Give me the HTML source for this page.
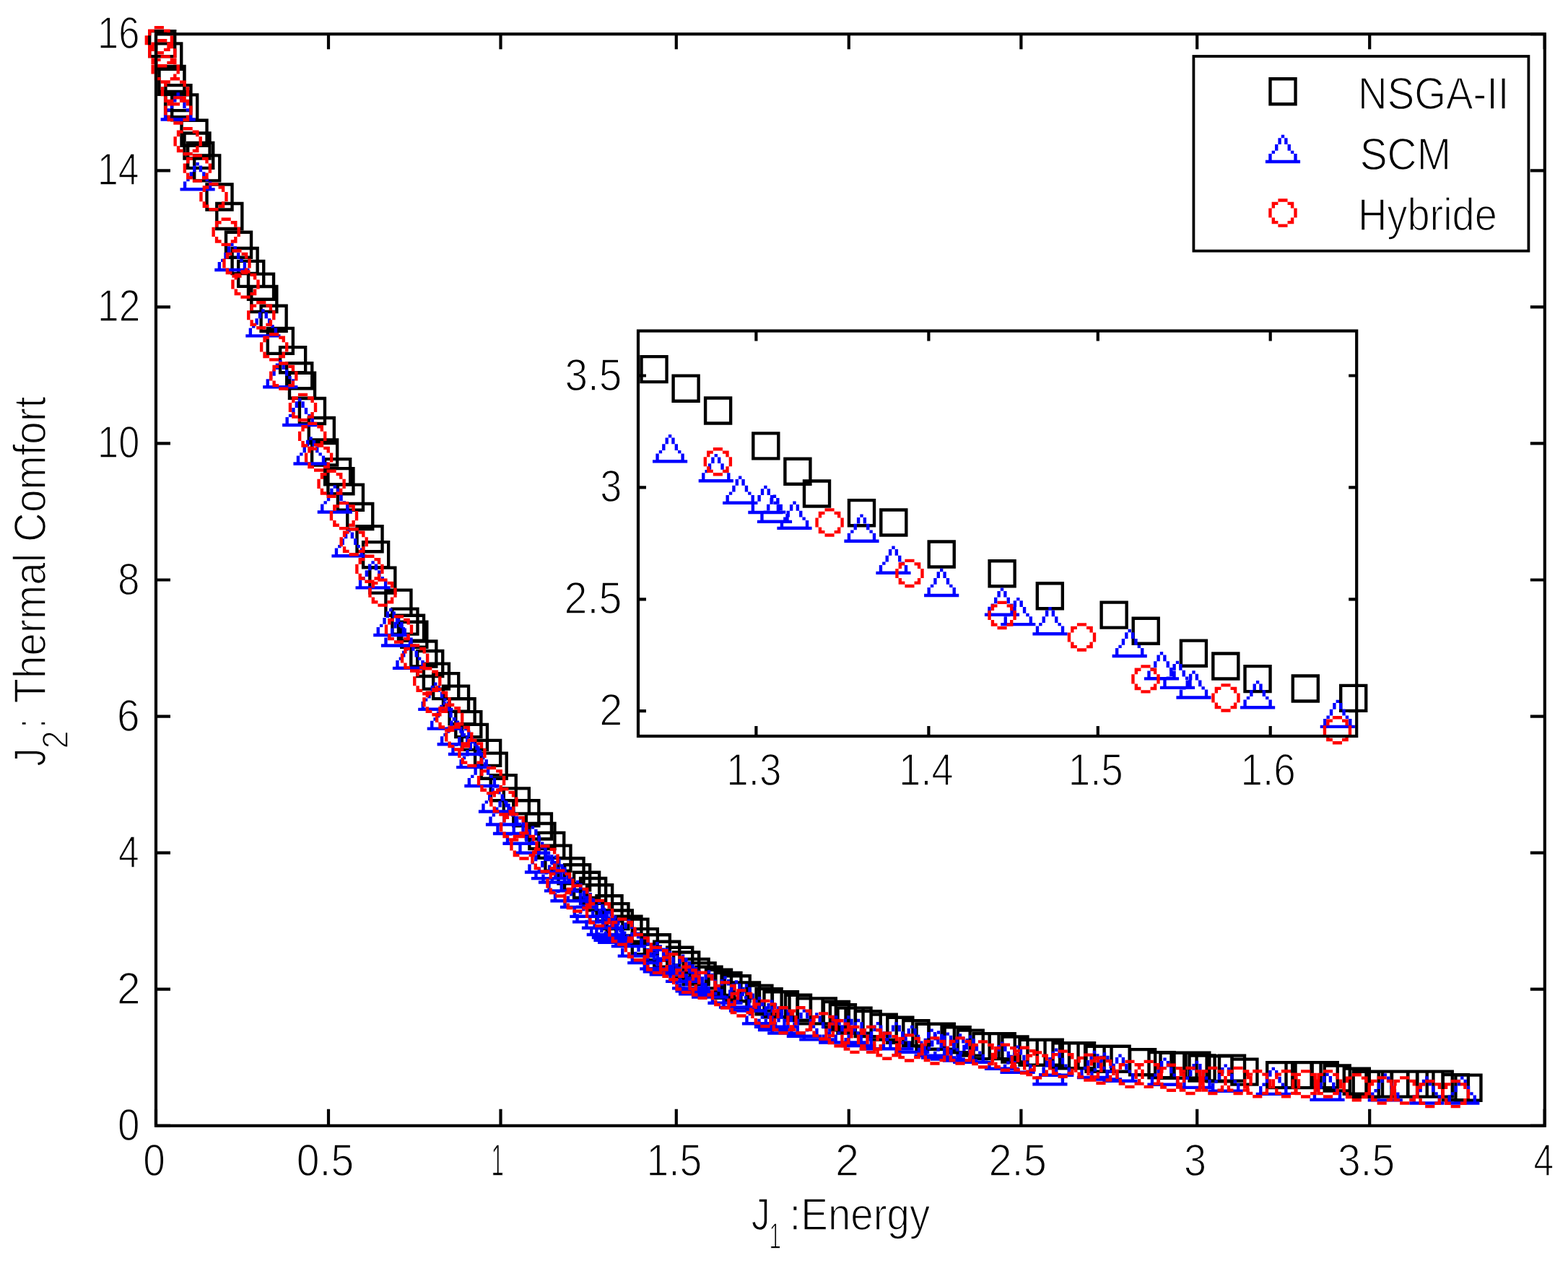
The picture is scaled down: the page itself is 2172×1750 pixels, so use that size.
<!DOCTYPE html><html><head><meta charset="utf-8"><title>Pareto fronts</title><style>html,body{margin:0;padding:0;background:#fff;overflow:hidden}svg{display:block}</style></head><body><svg xmlns="http://www.w3.org/2000/svg" width="2172" height="1750" viewBox="0 0 2172 1750"><rect x="0" y="0" width="2172" height="1750" fill="#fff"/><path d="M216 1559.8v-23M216 47.2v21M455 1559.8v-23M455 47.2v21M693.5 1559.8v-23M693.5 47.2v21M936.8 1559.8v-23M936.8 47.2v21M1175.8 1559.8v-23M1175.8 47.2v21M1414.4 1559.8v-23M1414.4 47.2v21M1658.2 1559.8v-23M1658.2 47.2v21M1897.2 1559.8v-23M1897.2 47.2v21M2139.7 1559.8v-23M2139.7 47.2v21M216 1559.8h20M2139.8 1559.8h-20M216 1370.7h20M2139.8 1370.7h-20M216 1181.7h20M2139.8 1181.7h-20M216 992.6h20M2139.8 992.6h-20M216 803.5h20M2139.8 803.5h-20M216 614.4h20M2139.8 614.4h-20M216 425.4h20M2139.8 425.4h-20M216 236.3h20M2139.8 236.3h-20M216 47.2h20M2139.8 47.2h-20" stroke="#000" stroke-width="4.2" fill="none"/><path d="M205.0 40.9h39.42v39.42h-39.42v-39.42zM209.4 75.9h30.66v-30.66h-30.66v30.66zM214.0 58.2h39.42v39.42h-39.42v-39.42zM218.4 93.2h30.66v-30.66h-30.66v30.66zM218.3 89.7h39.42v39.42h-39.42v-39.42zM222.7 124.7h30.66v-30.66h-30.66v30.66zM218.1 93.6h39.42v39.42h-39.42v-39.42zM222.5 128.6h30.66v-30.66h-30.66v30.66zM227.2 115.9h39.42v39.42h-39.42v-39.42zM231.6 150.9h30.66v-30.66h-30.66v30.66zM226.9 125.1h39.42v39.42h-39.42v-39.42zM231.3 160.1h30.66v-30.66h-30.66v30.66zM236.0 129.2h39.42v39.42h-39.42v-39.42zM240.4 164.2h30.66v-30.66h-30.66v30.66zM249.3 164.6h39.42v39.42h-39.42v-39.42zM253.7 199.6h30.66v-30.66h-30.66v30.66zM253.3 182.3h39.42v39.42h-39.42v-39.42zM257.7 217.3h30.66v-30.66h-30.66v30.66zM258.0 195.7h39.42v39.42h-39.42v-39.42zM262.4 230.7h30.66v-30.66h-30.66v30.66zM267.0 213.2h39.42v39.42h-39.42v-39.42zM271.4 248.2h30.66v-30.66h-30.66v30.66zM284.3 253.3h39.42v39.42h-39.42v-39.42zM288.7 288.3h30.66v-30.66h-30.66v30.66zM298.1 279.8h39.42v39.42h-39.42v-39.42zM302.5 314.8h30.66v-30.66h-30.66v30.66zM310.8 319.6h39.42v39.42h-39.42v-39.42zM315.2 354.6h30.66v-30.66h-30.66v30.66zM319.4 341.8h39.42v39.42h-39.42v-39.42zM323.8 376.8h30.66v-30.66h-30.66v30.66zM328.0 359.7h39.42v39.42h-39.42v-39.42zM332.4 394.7h30.66v-30.66h-30.66v30.66zM341.8 377.5h39.42v39.42h-39.42v-39.42zM346.2 412.5h30.66v-30.66h-30.66v30.66zM346.1 394.8h39.42v39.42h-39.42v-39.42zM350.5 429.8h30.66v-30.66h-30.66v30.66zM359.4 421.6h39.42v39.42h-39.42v-39.42zM363.8 456.6h30.66v-30.66h-30.66v30.66zM368.6 452.7h39.42v39.42h-39.42v-39.42zM373.0 487.7h30.66v-30.66h-30.66v30.66zM385.9 479.0h39.42v39.42h-39.42v-39.42zM390.3 514.0h30.66v-30.66h-30.66v30.66zM395.0 501.1h39.42v39.42h-39.42v-39.42zM399.4 536.1h30.66v-30.66h-30.66v30.66zM398.8 514.6h39.42v39.42h-39.42v-39.42zM403.2 549.6h30.66v-30.66h-30.66v30.66zM412.7 549.8h39.42v39.42h-39.42v-39.42zM417.1 584.8h30.66v-30.66h-30.66v30.66zM425.6 576.8h39.42v39.42h-39.42v-39.42zM430.0 611.8h30.66v-30.66h-30.66v30.66zM429.9 607.3h39.42v39.42h-39.42v-39.42zM434.3 642.3h30.66v-30.66h-30.66v30.66zM447.9 634.0h39.42v39.42h-39.42v-39.42zM452.3 669.0h30.66v-30.66h-30.66v30.66zM452.2 647.0h39.42v39.42h-39.42v-39.42zM456.6 682.0h30.66v-30.66h-30.66v30.66zM465.7 669.5h39.42v39.42h-39.42v-39.42zM470.1 704.5h30.66v-30.66h-30.66v30.66zM479.0 695.8h39.42v39.42h-39.42v-39.42zM483.4 730.8h30.66v-30.66h-30.66v30.66zM492.3 727.0h39.42v39.42h-39.42v-39.42zM496.7 762.0h30.66v-30.66h-30.66v30.66zM500.9 749.0h39.42v39.42h-39.42v-39.42zM505.3 784.0h30.66v-30.66h-30.66v30.66zM510.1 784.4h39.42v39.42h-39.42v-39.42zM514.5 819.4h30.66v-30.66h-30.66v30.66zM532.2 815.5h39.42v39.42h-39.42v-39.42zM536.6 850.5h30.66v-30.66h-30.66v30.66zM541.2 841.4h39.42v39.42h-39.42v-39.42zM545.6 876.4h30.66v-30.66h-30.66v30.66zM549.8 850.6h39.42v39.42h-39.42v-39.42zM554.2 885.6h30.66v-30.66h-30.66v30.66zM554.1 859.6h39.42v39.42h-39.42v-39.42zM558.5 894.6h30.66v-30.66h-30.66v30.66zM567.1 886.3h39.42v39.42h-39.42v-39.42zM571.5 921.3h30.66v-30.66h-30.66v30.66zM576.0 899.8h39.42v39.42h-39.42v-39.42zM580.4 934.8h30.66v-30.66h-30.66v30.66zM584.7 917.4h39.42v39.42h-39.42v-39.42zM589.1 952.4h30.66v-30.66h-30.66v30.66zM598.0 930.9h39.42v39.42h-39.42v-39.42zM602.4 965.9h30.66v-30.66h-30.66v30.66zM611.8 948.5h39.42v39.42h-39.42v-39.42zM616.2 983.5h30.66v-30.66h-30.66v30.66zM620.4 966.1h39.42v39.42h-39.42v-39.42zM624.8 1001.1h30.66v-30.66h-30.66v30.66zM629.1 983.9h39.42v39.42h-39.42v-39.42zM633.5 1018.9h30.66v-30.66h-30.66v30.66zM637.7 1001.7h39.42v39.42h-39.42v-39.42zM642.1 1036.7h30.66v-30.66h-30.66v30.66zM655.9 1023.7h39.42v39.42h-39.42v-39.42zM660.3 1058.7h30.66v-30.66h-30.66v30.66zM664.5 1041.5h39.42v39.42h-39.42v-39.42zM668.9 1076.5h30.66v-30.66h-30.66v30.66zM677.5 1072.0h39.42v39.42h-39.42v-39.42zM681.9 1107.0h30.66v-30.66h-30.66v30.66zM695.6 1090.2h39.42v39.42h-39.42v-39.42zM700.0 1125.2h30.66v-30.66h-30.66v30.66zM709.1 1107.1h39.42v39.42h-39.42v-39.42zM713.5 1142.1h30.66v-30.66h-30.66v30.66zM726.7 1125.3h39.42v39.42h-39.42v-39.42zM731.1 1160.3h30.66v-30.66h-30.66v30.66zM731.2 1138.8h39.42v39.42h-39.42v-39.42zM735.6 1173.8h30.66v-30.66h-30.66v30.66zM744.0 1151.7h39.42v39.42h-39.42v-39.42zM748.4 1186.7h30.66v-30.66h-30.66v30.66zM753.2 1169.5h39.42v39.42h-39.42v-39.42zM757.6 1204.5h30.66v-30.66h-30.66v30.66zM771.3 1187.1h39.42v39.42h-39.42v-39.42zM775.7 1222.1h30.66v-30.66h-30.66v30.66zM779.9 1196.1h39.42v39.42h-39.42v-39.42zM784.3 1231.1h30.66v-30.66h-30.66v30.66zM792.9 1206.6h39.42v39.42h-39.42v-39.42zM797.3 1241.7h30.66v-30.66h-30.66v30.66zM801.9 1214.7h39.42v39.42h-39.42v-39.42zM806.3 1249.8h30.66v-30.66h-30.66v30.66zM810.9 1224.1h39.42v39.42h-39.42v-39.42zM815.3 1259.2h30.66v-30.66h-30.66v30.66zM824.3 1239.1h39.42v39.42h-39.42v-39.42zM828.7 1274.1h30.66v-30.66h-30.66v30.66zM833.2 1249.9h39.42v39.42h-39.42v-39.42zM837.6 1284.9h30.66v-30.66h-30.66v30.66zM838.6 1259.2h39.42v39.42h-39.42v-39.42zM843.0 1294.3h30.66v-30.66h-30.66v30.66zM851.2 1267.4h39.42v39.42h-39.42v-39.42zM855.6 1302.4h30.66v-30.66h-30.66v30.66zM860.2 1271.4h39.42v39.42h-39.42v-39.42zM864.5 1306.5h30.66v-30.66h-30.66v30.66zM873.6 1284.9h39.42v39.42h-39.42v-39.42zM878.0 1319.9h30.66v-30.66h-30.66v30.66zM890.6 1293.1h39.42v39.42h-39.42v-39.42zM895.0 1328.1h30.66v-30.66h-30.66v30.66zM904.0 1302.5h39.42v39.42h-39.42v-39.42zM908.4 1337.6h30.66v-30.66h-30.66v30.66zM922.0 1310.5h39.42v39.42h-39.42v-39.42zM926.4 1345.6h30.66v-30.66h-30.66v30.66zM931.0 1317.3h39.42v39.42h-39.42v-39.42zM935.3 1352.4h30.66v-30.66h-30.66v30.66zM944.4 1326.8h39.42v39.42h-39.42v-39.42zM948.8 1361.8h30.66v-30.66h-30.66v30.66zM953.4 1332.2h39.42v39.42h-39.42v-39.42zM957.7 1367.2h30.66v-30.66h-30.66v30.66zM962.3 1337.6h39.42v39.42h-39.42v-39.42zM966.7 1372.6h30.66v-30.66h-30.66v30.66zM975.8 1341.6h39.42v39.42h-39.42v-39.42zM980.1 1376.7h30.66v-30.66h-30.66v30.66zM989.2 1345.7h39.42v39.42h-39.42v-39.42zM993.6 1380.8h30.66v-30.66h-30.66v30.66zM1001.5 1350.1h39.42v39.42h-39.42v-39.42zM1005.9 1385.1h30.66v-30.66h-30.66v30.66zM1014.8 1359.2h39.42v39.42h-39.42v-39.42zM1019.2 1394.2h30.66v-30.66h-30.66v30.66zM1032.2 1363.4h39.42v39.42h-39.42v-39.42zM1036.6 1398.4h30.66v-30.66h-30.66v30.66zM1045.4 1368.0h39.42v39.42h-39.42v-39.42zM1049.8 1403.0h30.66v-30.66h-30.66v30.66zM1056.3 1372.1h39.42v39.42h-39.42v-39.42zM1060.7 1407.1h30.66v-30.66h-30.66v30.66zM1067.7 1372.1h39.42v39.42h-39.42v-39.42zM1072.1 1407.1h30.66v-30.66h-30.66v30.66zM1085.8 1376.6h39.42v39.42h-39.42v-39.42zM1090.2 1411.6h30.66v-30.66h-30.66v30.66zM1102.3 1381.2h39.42v39.42h-39.42v-39.42zM1106.7 1416.2h30.66v-30.66h-30.66v30.66zM1120.6 1381.2h39.42v39.42h-39.42v-39.42zM1125.0 1416.2h30.66v-30.66h-30.66v30.66zM1138.7 1385.8h39.42v39.42h-39.42v-39.42zM1143.1 1420.8h30.66v-30.66h-30.66v30.66zM1147.7 1390.0h39.42v39.42h-39.42v-39.42zM1152.1 1425.0h30.66v-30.66h-30.66v30.66zM1158.3 1394.4h39.42v39.42h-39.42v-39.42zM1162.7 1429.4h30.66v-30.66h-30.66v30.66zM1169.3 1394.4h39.42v39.42h-39.42v-39.42zM1173.7 1429.4h30.66v-30.66h-30.66v30.66zM1182.5 1398.9h39.42v39.42h-39.42v-39.42zM1186.9 1433.9h30.66v-30.66h-30.66v30.66zM1204.5 1403.4h39.42v39.42h-39.42v-39.42zM1208.9 1438.4h30.66v-30.66h-30.66v30.66zM1227.1 1407.6h39.42v39.42h-39.42v-39.42zM1231.5 1442.6h30.66v-30.66h-30.66v30.66zM1249.1 1412.0h39.42v39.42h-39.42v-39.42zM1253.5 1447.0h30.66v-30.66h-30.66v30.66zM1267.3 1416.6h39.42v39.42h-39.42v-39.42zM1271.7 1451.6h30.66v-30.66h-30.66v30.66zM1284.6 1416.6h39.42v39.42h-39.42v-39.42zM1289.0 1451.6h30.66v-30.66h-30.66v30.66zM1306.4 1421.1h39.42v39.42h-39.42v-39.42zM1310.8 1456.1h30.66v-30.66h-30.66v30.66zM1324.5 1425.4h39.42v39.42h-39.42v-39.42zM1328.9 1460.4h30.66v-30.66h-30.66v30.66zM1346.3 1429.9h39.42v39.42h-39.42v-39.42zM1350.7 1464.9h30.66v-30.66h-30.66v30.66zM1368.5 1429.9h39.42v39.42h-39.42v-39.42zM1372.9 1464.9h30.66v-30.66h-30.66v30.66zM1386.2 1434.3h39.42v39.42h-39.42v-39.42zM1390.6 1469.3h30.66v-30.66h-30.66v30.66zM1410.3 1438.6h39.42v39.42h-39.42v-39.42zM1414.7 1473.6h30.66v-30.66h-30.66v30.66zM1434.5 1438.6h39.42v39.42h-39.42v-39.42zM1438.9 1473.6h30.66v-30.66h-30.66v30.66zM1456.3 1443.1h39.42v39.42h-39.42v-39.42zM1460.7 1478.1h30.66v-30.66h-30.66v30.66zM1465.9 1443.1h39.42v39.42h-39.42v-39.42zM1470.3 1478.1h30.66v-30.66h-30.66v30.66zM1478.8 1443.1h39.42v39.42h-39.42v-39.42zM1483.2 1478.1h30.66v-30.66h-30.66v30.66zM1502.3 1447.6h39.42v39.42h-39.42v-39.42zM1506.7 1482.6h30.66v-30.66h-30.66v30.66zM1527.4 1447.6h39.42v39.42h-39.42v-39.42zM1531.8 1482.6h30.66v-30.66h-30.66v30.66zM1562.9 1452.0h39.42v39.42h-39.42v-39.42zM1567.3 1487.0h30.66v-30.66h-30.66v30.66zM1589.3 1456.0h39.42v39.42h-39.42v-39.42zM1593.7 1491.0h30.66v-30.66h-30.66v30.66zM1605.3 1456.6h39.42v39.42h-39.42v-39.42zM1609.7 1491.6h30.66v-30.66h-30.66v30.66zM1620.3 1456.6h39.42v39.42h-39.42v-39.42zM1624.7 1491.6h30.66v-30.66h-30.66v30.66zM1638.1 1456.6h39.42v39.42h-39.42v-39.42zM1642.5 1491.6h30.66v-30.66h-30.66v30.66zM1645.3 1460.3h39.42v39.42h-39.42v-39.42zM1649.7 1495.3h30.66v-30.66h-30.66v30.66zM1669.4 1461.1h39.42v39.42h-39.42v-39.42zM1673.8 1496.1h30.66v-30.66h-30.66v30.66zM1686.8 1460.4h39.42v39.42h-39.42v-39.42zM1691.2 1495.4h30.66v-30.66h-30.66v30.66zM1704.2 1465.4h39.42v39.42h-39.42v-39.42zM1708.6 1500.4h30.66v-30.66h-30.66v30.66zM1753.0 1469.9h39.42v39.42h-39.42v-39.42zM1757.4 1504.9h30.66v-30.66h-30.66v30.66zM1779.3 1469.9h39.42v39.42h-39.42v-39.42zM1783.7 1504.9h30.66v-30.66h-30.66v30.66zM1792.3 1469.9h39.42v39.42h-39.42v-39.42zM1796.7 1504.9h30.66v-30.66h-30.66v30.66zM1815.5 1469.9h39.42v39.42h-39.42v-39.42zM1819.9 1504.9h30.66v-30.66h-30.66v30.66zM1832.5 1474.3h39.42v39.42h-39.42v-39.42zM1836.9 1509.3h30.66v-30.66h-30.66v30.66zM1859.6 1478.5h39.42v39.42h-39.42v-39.42zM1864.0 1513.5h30.66v-30.66h-30.66v30.66zM1872.5 1482.7h39.42v39.42h-39.42v-39.42zM1876.9 1517.7h30.66v-30.66h-30.66v30.66zM1890.3 1482.4h39.42v39.42h-39.42v-39.42zM1894.7 1517.4h30.66v-30.66h-30.66v30.66zM1912.8 1482.4h39.42v39.42h-39.42v-39.42zM1917.2 1517.4h30.66v-30.66h-30.66v30.66zM1925.8 1482.4h39.42v39.42h-39.42v-39.42zM1930.2 1517.4h30.66v-30.66h-30.66v30.66zM1948.2 1482.4h39.42v39.42h-39.42v-39.42zM1952.6 1517.4h30.66v-30.66h-30.66v30.66zM1961.2 1482.4h39.42v39.42h-39.42v-39.42zM1965.6 1517.4h30.66v-30.66h-30.66v30.66zM1974.5 1482.4h39.42v39.42h-39.42v-39.42zM1978.9 1517.4h30.66v-30.66h-30.66v30.66zM1996.6 1487.0h39.42v39.42h-39.42v-39.42zM2001.0 1522.0h30.66v-30.66h-30.66v30.66zM2014.2 1487.5h39.42v39.42h-39.42v-39.42zM2018.6 1522.5h30.66v-30.66h-30.66v30.66z" fill="#000" fill-rule="nonzero"/><path d="M244.5 128.3h4.38v4.38h4.38v8.76h4.38v8.76h4.38v4.38h4.38v8.76h4.38v4.38h-48.18v-4.38h4.38v-8.76h4.38v-4.38h4.38v-8.76h4.38v-8.76h4.38v-4.38zM244.5 141.4h-4.38v8.76h-4.38v4.38h-4.38v8.76h30.66v-8.76h-4.38v-4.38h-4.38v-8.76h-4.38v-8.76h-4.38v8.76zM271.4 225.1h4.38v4.38h4.38v8.76h4.38v8.76h4.38v4.38h4.38v8.76h4.38v4.38h-48.18v-4.38h4.38v-8.76h4.38v-4.38h4.38v-8.76h4.38v-8.76h4.38v-4.38zM271.4 238.2h-4.38v8.76h-4.38v4.38h-4.38v8.76h30.66v-8.76h-4.38v-4.38h-4.38v-8.76h-4.38v-8.76h-4.38v8.76zM319.2 336.8h4.38v4.38h4.38v8.76h4.38v8.76h4.38v4.38h4.38v8.76h4.38v4.38h-48.18v-4.38h4.38v-8.76h4.38v-4.38h4.38v-8.76h4.38v-8.76h4.38v-4.38zM319.2 349.9h-4.38v8.76h-4.38v4.38h-4.38v8.76h30.66v-8.76h-4.38v-4.38h-4.38v-8.76h-4.38v-8.76h-4.38v8.76zM362.2 428.2h4.38v4.38h4.38v8.76h4.38v8.76h4.38v4.38h4.38v8.76h4.38v4.38h-48.18v-4.38h4.38v-8.76h4.38v-4.38h4.38v-8.76h4.38v-8.76h4.38v-4.38zM362.2 441.3h-4.38v8.76h-4.38v4.38h-4.38v8.76h30.66v-8.76h-4.38v-4.38h-4.38v-8.76h-4.38v-8.76h-4.38v8.76zM386.1 499.0h4.38v4.38h4.38v8.76h4.38v8.76h4.38v4.38h4.38v8.76h4.38v4.38h-48.18v-4.38h4.38v-8.76h4.38v-4.38h4.38v-8.76h4.38v-8.76h4.38v-4.38zM386.1 512.1h-4.38v8.76h-4.38v4.38h-4.38v8.76h30.66v-8.76h-4.38v-4.38h-4.38v-8.76h-4.38v-8.76h-4.38v8.76zM413.0 551.8h4.38v4.38h4.38v8.76h4.38v8.76h4.38v4.38h4.38v8.76h4.38v4.38h-48.18v-4.38h4.38v-8.76h4.38v-4.38h4.38v-8.76h4.38v-8.76h4.38v-4.38zM413.0 564.9h-4.38v8.76h-4.38v4.38h-4.38v8.76h30.66v-8.76h-4.38v-4.38h-4.38v-8.76h-4.38v-8.76h-4.38v8.76zM428.3 605.3h4.38v4.38h4.38v8.76h4.38v8.76h4.38v4.38h4.38v8.76h4.38v4.38h-48.18v-4.38h4.38v-8.76h4.38v-4.38h4.38v-8.76h4.38v-8.76h4.38v-4.38zM428.3 618.4h-4.38v8.76h-4.38v4.38h-4.38v8.76h30.66v-8.76h-4.38v-4.38h-4.38v-8.76h-4.38v-8.76h-4.38v8.76zM461.6 672.3h4.38v4.38h4.38v8.76h4.38v8.76h4.38v4.38h4.38v8.76h4.38v4.38h-48.18v-4.38h4.38v-8.76h4.38v-4.38h4.38v-8.76h4.38v-8.76h4.38v-4.38zM461.6 685.4h-4.38v8.76h-4.38v4.38h-4.38v8.76h30.66v-8.76h-4.38v-4.38h-4.38v-8.76h-4.38v-8.76h-4.38v8.76zM481.3 733.1h4.38v4.38h4.38v8.76h4.38v8.76h4.38v4.38h4.38v8.76h4.38v4.38h-48.18v-4.38h4.38v-8.76h4.38v-4.38h4.38v-8.76h4.38v-8.76h4.38v-4.38zM481.3 746.2h-4.38v8.76h-4.38v4.38h-4.38v8.76h30.66v-8.76h-4.38v-4.38h-4.38v-8.76h-4.38v-8.76h-4.38v8.76zM514.4 777.2h4.38v4.38h4.38v8.76h4.38v8.76h4.38v4.38h4.38v8.76h4.38v4.38h-48.18v-4.38h4.38v-8.76h4.38v-4.38h4.38v-8.76h4.38v-8.76h4.38v-4.38zM514.4 790.3h-4.38v8.76h-4.38v4.38h-4.38v8.76h30.66v-8.76h-4.38v-4.38h-4.38v-8.76h-4.38v-8.76h-4.38v8.76zM539.1 842.8h4.38v4.38h4.38v8.76h4.38v8.76h4.38v4.38h4.38v8.76h4.38v4.38h-48.18v-4.38h4.38v-8.76h4.38v-4.38h4.38v-8.76h4.38v-8.76h4.38v-4.38zM539.1 855.9h-4.38v8.76h-4.38v4.38h-4.38v8.76h30.66v-8.76h-4.38v-4.38h-4.38v-8.76h-4.38v-8.76h-4.38v8.76zM549.8 857.3h4.38v4.38h4.38v8.76h4.38v8.76h4.38v4.38h4.38v8.76h4.38v4.38h-48.18v-4.38h4.38v-8.76h4.38v-4.38h4.38v-8.76h4.38v-8.76h4.38v-4.38zM549.8 870.4h-4.38v8.76h-4.38v4.38h-4.38v8.76h30.66v-8.76h-4.38v-4.38h-4.38v-8.76h-4.38v-8.76h-4.38v8.76zM565.8 888.6h4.38v4.38h4.38v8.76h4.38v8.76h4.38v4.38h4.38v8.76h4.38v4.38h-48.18v-4.38h4.38v-8.76h4.38v-4.38h4.38v-8.76h4.38v-8.76h4.38v-4.38zM565.8 901.7h-4.38v8.76h-4.38v4.38h-4.38v8.76h30.66v-8.76h-4.38v-4.38h-4.38v-8.76h-4.38v-8.76h-4.38v8.76zM601.1 945.6h4.38v4.38h4.38v8.76h4.38v8.76h4.38v4.38h4.38v8.76h4.38v4.38h-48.18v-4.38h4.38v-8.76h4.38v-4.38h4.38v-8.76h4.38v-8.76h4.38v-4.38zM601.1 958.7h-4.38v8.76h-4.38v4.38h-4.38v8.76h30.66v-8.76h-4.38v-4.38h-4.38v-8.76h-4.38v-8.76h-4.38v8.76zM613.6 972.4h4.38v4.38h4.38v8.76h4.38v8.76h4.38v4.38h4.38v8.76h4.38v4.38h-48.18v-4.38h4.38v-8.76h4.38v-4.38h4.38v-8.76h4.38v-8.76h4.38v-4.38zM613.6 985.5h-4.38v8.76h-4.38v4.38h-4.38v8.76h30.66v-8.76h-4.38v-4.38h-4.38v-8.76h-4.38v-8.76h-4.38v8.76zM627.5 994.0h4.38v4.38h4.38v8.76h4.38v8.76h4.38v4.38h4.38v8.76h4.38v4.38h-48.18v-4.38h4.38v-8.76h4.38v-4.38h4.38v-8.76h4.38v-8.76h4.38v-4.38zM627.5 1007.1h-4.38v8.76h-4.38v4.38h-4.38v8.76h30.66v-8.76h-4.38v-4.38h-4.38v-8.76h-4.38v-8.76h-4.38v8.76zM642.8 1007.8h4.38v4.38h4.38v8.76h4.38v8.76h4.38v4.38h4.38v8.76h4.38v4.38h-48.18v-4.38h4.38v-8.76h4.38v-4.38h4.38v-8.76h4.38v-8.76h4.38v-4.38zM642.8 1020.9h-4.38v8.76h-4.38v4.38h-4.38v8.76h30.66v-8.76h-4.38v-4.38h-4.38v-8.76h-4.38v-8.76h-4.38v8.76zM654.0 1025.9h4.38v4.38h4.38v8.76h4.38v8.76h4.38v4.38h4.38v8.76h4.38v4.38h-48.18v-4.38h4.38v-8.76h4.38v-4.38h4.38v-8.76h4.38v-8.76h4.38v-4.38zM654.0 1039.0h-4.38v8.76h-4.38v4.38h-4.38v8.76h30.66v-8.76h-4.38v-4.38h-4.38v-8.76h-4.38v-8.76h-4.38v8.76zM665.2 1051.8h4.38v4.38h4.38v8.76h4.38v8.76h4.38v4.38h4.38v8.76h4.38v4.38h-48.18v-4.38h4.38v-8.76h4.38v-4.38h4.38v-8.76h4.38v-8.76h4.38v-4.38zM665.2 1064.9h-4.38v8.76h-4.38v4.38h-4.38v8.76h30.66v-8.76h-4.38v-4.38h-4.38v-8.76h-4.38v-8.76h-4.38v8.76zM684.8 1087.3h4.38v4.38h4.38v8.76h4.38v8.76h4.38v4.38h4.38v8.76h4.38v4.38h-48.18v-4.38h4.38v-8.76h4.38v-4.38h4.38v-8.76h4.38v-8.76h4.38v-4.38zM684.8 1100.4h-4.38v8.76h-4.38v4.38h-4.38v8.76h30.66v-8.76h-4.38v-4.38h-4.38v-8.76h-4.38v-8.76h-4.38v8.76zM694.8 1105.3h4.38v4.38h4.38v8.76h4.38v8.76h4.38v4.38h4.38v8.76h4.38v4.38h-48.18v-4.38h4.38v-8.76h4.38v-4.38h4.38v-8.76h4.38v-8.76h4.38v-4.38zM694.8 1118.4h-4.38v8.76h-4.38v4.38h-4.38v8.76h30.66v-8.76h-4.38v-4.38h-4.38v-8.76h-4.38v-8.76h-4.38v8.76zM704.8 1117.8h4.38v4.38h4.38v8.76h4.38v8.76h4.38v4.38h4.38v8.76h4.38v4.38h-48.18v-4.38h4.38v-8.76h4.38v-4.38h4.38v-8.76h4.38v-8.76h4.38v-4.38zM704.8 1130.9h-4.38v8.76h-4.38v4.38h-4.38v8.76h30.66v-8.76h-4.38v-4.38h-4.38v-8.76h-4.38v-8.76h-4.38v8.76zM718.3 1131.5h4.38v4.38h4.38v8.76h4.38v8.76h4.38v4.38h4.38v8.76h4.38v4.38h-48.18v-4.38h4.38v-8.76h4.38v-4.38h4.38v-8.76h4.38v-8.76h4.38v-4.38zM718.3 1144.6h-4.38v8.76h-4.38v4.38h-4.38v8.76h30.66v-8.76h-4.38v-4.38h-4.38v-8.76h-4.38v-8.76h-4.38v8.76zM735.8 1144.5h4.38v4.38h4.38v8.76h4.38v8.76h4.38v4.38h4.38v8.76h4.38v4.38h-48.18v-4.38h4.38v-8.76h4.38v-4.38h4.38v-8.76h4.38v-8.76h4.38v-4.38zM735.8 1157.6h-4.38v8.76h-4.38v4.38h-4.38v8.76h30.66v-8.76h-4.38v-4.38h-4.38v-8.76h-4.38v-8.76h-4.38v8.76zM748.8 1171.3h4.38v4.38h4.38v8.76h4.38v8.76h4.38v4.38h4.38v8.76h4.38v4.38h-48.18v-4.38h4.38v-8.76h4.38v-4.38h4.38v-8.76h4.38v-8.76h4.38v-4.38zM748.8 1184.4h-4.38v8.76h-4.38v4.38h-4.38v8.76h30.66v-8.76h-4.38v-4.38h-4.38v-8.76h-4.38v-8.76h-4.38v8.76zM757.8 1179.9h4.38v4.38h4.38v8.76h4.38v8.76h4.38v4.38h4.38v8.76h4.38v4.38h-48.18v-4.38h4.38v-8.76h4.38v-4.38h4.38v-8.76h4.38v-8.76h4.38v-4.38zM757.8 1193.0h-4.38v8.76h-4.38v4.38h-4.38v8.76h30.66v-8.76h-4.38v-4.38h-4.38v-8.76h-4.38v-8.76h-4.38v8.76zM767.8 1185.3h4.38v4.38h4.38v8.76h4.38v8.76h4.38v4.38h4.38v8.76h4.38v4.38h-48.18v-4.38h4.38v-8.76h4.38v-4.38h4.38v-8.76h4.38v-8.76h4.38v-4.38zM767.8 1198.4h-4.38v8.76h-4.38v4.38h-4.38v8.76h30.66v-8.76h-4.38v-4.38h-4.38v-8.76h-4.38v-8.76h-4.38v8.76zM775.8 1197.2h4.38v4.38h4.38v8.76h4.38v8.76h4.38v4.38h4.38v8.76h4.38v4.38h-48.18v-4.38h4.38v-8.76h4.38v-4.38h4.38v-8.76h4.38v-8.76h4.38v-4.38zM775.8 1210.3h-4.38v8.76h-4.38v4.38h-4.38v8.76h30.66v-8.76h-4.38v-4.38h-4.38v-8.76h-4.38v-8.76h-4.38v8.76zM784.3 1211.0h4.38v4.38h4.38v8.76h4.38v8.76h4.38v4.38h4.38v8.76h4.38v4.38h-48.18v-4.38h4.38v-8.76h4.38v-4.38h4.38v-8.76h4.38v-8.76h4.38v-4.38zM784.3 1224.1h-4.38v8.76h-4.38v4.38h-4.38v8.76h30.66v-8.76h-4.38v-4.38h-4.38v-8.76h-4.38v-8.76h-4.38v8.76zM797.8 1219.7h4.38v4.38h4.38v8.76h4.38v8.76h4.38v4.38h4.38v8.76h4.38v4.38h-48.18v-4.38h4.38v-8.76h4.38v-4.38h4.38v-8.76h4.38v-8.76h4.38v-4.38zM797.8 1232.8h-4.38v8.76h-4.38v4.38h-4.38v8.76h30.66v-8.76h-4.38v-4.38h-4.38v-8.76h-4.38v-8.76h-4.38v8.76zM811.2 1232.6h4.38v4.38h4.38v8.76h4.38v8.76h4.38v4.38h4.38v8.76h4.38v4.38h-48.18v-4.38h4.38v-8.76h4.38v-4.38h4.38v-8.76h4.38v-8.76h4.38v-4.38zM811.2 1245.7h-4.38v8.76h-4.38v4.38h-4.38v8.76h30.66v-8.76h-4.38v-4.38h-4.38v-8.76h-4.38v-8.76h-4.38v8.76zM814.9 1240.2h4.38v4.38h4.38v8.76h4.38v8.76h4.38v4.38h4.38v8.76h4.38v4.38h-48.18v-4.38h4.38v-8.76h4.38v-4.38h4.38v-8.76h4.38v-8.76h4.38v-4.38zM814.9 1253.4h-4.38v8.76h-4.38v4.38h-4.38v8.76h30.66v-8.76h-4.38v-4.38h-4.38v-8.76h-4.38v-8.76h-4.38v8.76zM827.8 1248.5h4.38v4.38h4.38v8.76h4.38v8.76h4.38v4.38h4.38v8.76h4.38v4.38h-48.18v-4.38h4.38v-8.76h4.38v-4.38h4.38v-8.76h4.38v-8.76h4.38v-4.38zM827.8 1261.6h-4.38v8.76h-4.38v4.38h-4.38v8.76h30.66v-8.76h-4.38v-4.38h-4.38v-8.76h-4.38v-8.76h-4.38v8.76zM834.6 1257.8h4.38v4.38h4.38v8.76h4.38v8.76h4.38v4.38h4.38v8.76h4.38v4.38h-48.18v-4.38h4.38v-8.76h4.38v-4.38h4.38v-8.76h4.38v-8.76h4.38v-4.38zM834.6 1270.9h-4.38v8.76h-4.38v4.38h-4.38v8.76h30.66v-8.76h-4.38v-4.38h-4.38v-8.76h-4.38v-8.76h-4.38v8.76zM841.7 1261.8h4.38v4.38h4.38v8.76h4.38v8.76h4.38v4.38h4.38v8.76h4.38v4.38h-48.18v-4.38h4.38v-8.76h4.38v-4.38h4.38v-8.76h4.38v-8.76h4.38v-4.38zM841.7 1275.0h-4.38v8.76h-4.38v4.38h-4.38v8.76h30.66v-8.76h-4.38v-4.38h-4.38v-8.76h-4.38v-8.76h-4.38v8.76zM844.3 1265.7h4.38v4.38h4.38v8.76h4.38v8.76h4.38v4.38h4.38v8.76h4.38v4.38h-48.18v-4.38h4.38v-8.76h4.38v-4.38h4.38v-8.76h4.38v-8.76h4.38v-4.38zM844.3 1278.9h-4.38v8.76h-4.38v4.38h-4.38v8.76h30.66v-8.76h-4.38v-4.38h-4.38v-8.76h-4.38v-8.76h-4.38v8.76zM849.9 1268.5h4.38v4.38h4.38v8.76h4.38v8.76h4.38v4.38h4.38v8.76h4.38v4.38h-48.18v-4.38h4.38v-8.76h4.38v-4.38h4.38v-8.76h4.38v-8.76h4.38v-4.38zM849.9 1281.6h-4.38v8.76h-4.38v4.38h-4.38v8.76h30.66v-8.76h-4.38v-4.38h-4.38v-8.76h-4.38v-8.76h-4.38v8.76zM868.7 1273.9h4.38v4.38h4.38v8.76h4.38v8.76h4.38v4.38h4.38v8.76h4.38v4.38h-48.18v-4.38h4.38v-8.76h4.38v-4.38h4.38v-8.76h4.38v-8.76h4.38v-4.38zM868.7 1287.1h-4.38v8.76h-4.38v4.38h-4.38v8.76h30.66v-8.76h-4.38v-4.38h-4.38v-8.76h-4.38v-8.76h-4.38v8.76zM877.6 1287.4h4.38v4.38h4.38v8.76h4.38v8.76h4.38v4.38h4.38v8.76h4.38v4.38h-48.18v-4.38h4.38v-8.76h4.38v-4.38h4.38v-8.76h4.38v-8.76h4.38v-4.38zM877.6 1300.5h-4.38v8.76h-4.38v4.38h-4.38v8.76h30.66v-8.76h-4.38v-4.38h-4.38v-8.76h-4.38v-8.76h-4.38v8.76zM891.1 1296.9h4.38v4.38h4.38v8.76h4.38v8.76h4.38v4.38h4.38v8.76h4.38v4.38h-48.18v-4.38h4.38v-8.76h4.38v-4.38h4.38v-8.76h4.38v-8.76h4.38v-4.38zM891.1 1310.1h-4.38v8.76h-4.38v4.38h-4.38v8.76h30.66v-8.76h-4.38v-4.38h-4.38v-8.76h-4.38v-8.76h-4.38v8.76zM908.1 1305.1h4.38v4.38h4.38v8.76h4.38v8.76h4.38v4.38h4.38v8.76h4.38v4.38h-48.18v-4.38h4.38v-8.76h4.38v-4.38h4.38v-8.76h4.38v-8.76h4.38v-4.38zM908.1 1318.2h-4.38v8.76h-4.38v4.38h-4.38v8.76h30.66v-8.76h-4.38v-4.38h-4.38v-8.76h-4.38v-8.76h-4.38v8.76zM912.6 1309.2h4.38v4.38h4.38v8.76h4.38v8.76h4.38v4.38h4.38v8.76h4.38v4.38h-48.18v-4.38h4.38v-8.76h4.38v-4.38h4.38v-8.76h4.38v-8.76h4.38v-4.38zM912.6 1322.3h-4.38v8.76h-4.38v4.38h-4.38v8.76h30.66v-8.76h-4.38v-4.38h-4.38v-8.76h-4.38v-8.76h-4.38v8.76zM921.6 1313.2h4.38v4.38h4.38v8.76h4.38v8.76h4.38v4.38h4.38v8.76h4.38v4.38h-48.18v-4.38h4.38v-8.76h4.38v-4.38h4.38v-8.76h4.38v-8.76h4.38v-4.38zM921.6 1326.3h-4.38v8.76h-4.38v4.38h-4.38v8.76h30.66v-8.76h-4.38v-4.38h-4.38v-8.76h-4.38v-8.76h-4.38v8.76zM943.9 1322.6h4.38v4.38h4.38v8.76h4.38v8.76h4.38v4.38h4.38v8.76h4.38v4.38h-48.18v-4.38h4.38v-8.76h4.38v-4.38h4.38v-8.76h4.38v-8.76h4.38v-4.38zM943.9 1335.7h-4.38v8.76h-4.38v4.38h-4.38v8.76h30.66v-8.76h-4.38v-4.38h-4.38v-8.76h-4.38v-8.76h-4.38v8.76zM952.9 1332.1h4.38v4.38h4.38v8.76h4.38v8.76h4.38v4.38h4.38v8.76h4.38v4.38h-48.18v-4.38h4.38v-8.76h4.38v-4.38h4.38v-8.76h4.38v-8.76h4.38v-4.38zM952.9 1345.3h-4.38v8.76h-4.38v4.38h-4.38v8.76h30.66v-8.76h-4.38v-4.38h-4.38v-8.76h-4.38v-8.76h-4.38v8.76zM957.4 1336.0h4.38v4.38h4.38v8.76h4.38v8.76h4.38v4.38h4.38v8.76h4.38v4.38h-48.18v-4.38h4.38v-8.76h4.38v-4.38h4.38v-8.76h4.38v-8.76h4.38v-4.38zM957.4 1349.1h-4.38v8.76h-4.38v4.38h-4.38v8.76h30.66v-8.76h-4.38v-4.38h-4.38v-8.76h-4.38v-8.76h-4.38v8.76zM961.9 1340.1h4.38v4.38h4.38v8.76h4.38v8.76h4.38v4.38h4.38v8.76h4.38v4.38h-48.18v-4.38h4.38v-8.76h4.38v-4.38h4.38v-8.76h4.38v-8.76h4.38v-4.38zM961.9 1353.3h-4.38v8.76h-4.38v4.38h-4.38v8.76h30.66v-8.76h-4.38v-4.38h-4.38v-8.76h-4.38v-8.76h-4.38v8.76zM979.9 1344.3h4.38v4.38h4.38v8.76h4.38v8.76h4.38v4.38h4.38v8.76h4.38v4.38h-48.18v-4.38h4.38v-8.76h4.38v-4.38h4.38v-8.76h4.38v-8.76h4.38v-4.38zM979.9 1357.5h-4.38v8.76h-4.38v4.38h-4.38v8.76h30.66v-8.76h-4.38v-4.38h-4.38v-8.76h-4.38v-8.76h-4.38v8.76zM1002.3 1352.5h4.38v4.38h4.38v8.76h4.38v8.76h4.38v4.38h4.38v8.76h4.38v4.38h-48.18v-4.38h4.38v-8.76h4.38v-4.38h4.38v-8.76h4.38v-8.76h4.38v-4.38zM1002.3 1365.6h-4.38v8.76h-4.38v4.38h-4.38v8.76h30.66v-8.76h-4.38v-4.38h-4.38v-8.76h-4.38v-8.76h-4.38v8.76zM1017.8 1358.3h4.38v4.38h4.38v8.76h4.38v8.76h4.38v4.38h4.38v8.76h4.38v4.38h-48.18v-4.38h4.38v-8.76h4.38v-4.38h4.38v-8.76h4.38v-8.76h4.38v-4.38zM1017.8 1371.4h-4.38v8.76h-4.38v4.38h-4.38v8.76h30.66v-8.76h-4.38v-4.38h-4.38v-8.76h-4.38v-8.76h-4.38v8.76zM1031.8 1363.3h4.38v4.38h4.38v8.76h4.38v8.76h4.38v4.38h4.38v8.76h4.38v4.38h-48.18v-4.38h4.38v-8.76h4.38v-4.38h4.38v-8.76h4.38v-8.76h4.38v-4.38zM1031.8 1376.4h-4.38v8.76h-4.38v4.38h-4.38v8.76h30.66v-8.76h-4.38v-4.38h-4.38v-8.76h-4.38v-8.76h-4.38v8.76zM1049.8 1381.1h4.38v4.38h4.38v8.76h4.38v8.76h4.38v4.38h4.38v8.76h4.38v4.38h-48.18v-4.38h4.38v-8.76h4.38v-4.38h4.38v-8.76h4.38v-8.76h4.38v-4.38zM1049.8 1394.2h-4.38v8.76h-4.38v4.38h-4.38v8.76h30.66v-8.76h-4.38v-4.38h-4.38v-8.76h-4.38v-8.76h-4.38v8.76zM1066.8 1385.5h4.38v4.38h4.38v8.76h4.38v8.76h4.38v4.38h4.38v8.76h4.38v4.38h-48.18v-4.38h4.38v-8.76h4.38v-4.38h4.38v-8.76h4.38v-8.76h4.38v-4.38zM1066.8 1398.6h-4.38v8.76h-4.38v4.38h-4.38v8.76h30.66v-8.76h-4.38v-4.38h-4.38v-8.76h-4.38v-8.76h-4.38v8.76zM1071.8 1389.9h4.38v4.38h4.38v8.76h4.38v8.76h4.38v4.38h4.38v8.76h4.38v4.38h-48.18v-4.38h4.38v-8.76h4.38v-4.38h4.38v-8.76h4.38v-8.76h4.38v-4.38zM1071.8 1403.0h-4.38v8.76h-4.38v4.38h-4.38v8.76h30.66v-8.76h-4.38v-4.38h-4.38v-8.76h-4.38v-8.76h-4.38v8.76zM1085.1 1394.4h4.38v4.38h4.38v8.76h4.38v8.76h4.38v4.38h4.38v8.76h4.38v4.38h-48.18v-4.38h4.38v-8.76h4.38v-4.38h4.38v-8.76h4.38v-8.76h4.38v-4.38zM1085.1 1407.5h-4.38v8.76h-4.38v4.38h-4.38v8.76h30.66v-8.76h-4.38v-4.38h-4.38v-8.76h-4.38v-8.76h-4.38v8.76zM1111.7 1398.5h4.38v4.38h4.38v8.76h4.38v8.76h4.38v4.38h4.38v8.76h4.38v4.38h-48.18v-4.38h4.38v-8.76h4.38v-4.38h4.38v-8.76h4.38v-8.76h4.38v-4.38zM1111.7 1411.6h-4.38v8.76h-4.38v4.38h-4.38v8.76h30.66v-8.76h-4.38v-4.38h-4.38v-8.76h-4.38v-8.76h-4.38v8.76zM1129.1 1403.2h4.38v4.38h4.38v8.76h4.38v8.76h4.38v4.38h4.38v8.76h4.38v4.38h-48.18v-4.38h4.38v-8.76h4.38v-4.38h4.38v-8.76h4.38v-8.76h4.38v-4.38zM1129.1 1416.3h-4.38v8.76h-4.38v4.38h-4.38v8.76h30.66v-8.76h-4.38v-4.38h-4.38v-8.76h-4.38v-8.76h-4.38v8.76zM1156.0 1407.3h4.38v4.38h4.38v8.76h4.38v8.76h4.38v4.38h4.38v8.76h4.38v4.38h-48.18v-4.38h4.38v-8.76h4.38v-4.38h4.38v-8.76h4.38v-8.76h4.38v-4.38zM1156.0 1420.4h-4.38v8.76h-4.38v4.38h-4.38v8.76h30.66v-8.76h-4.38v-4.38h-4.38v-8.76h-4.38v-8.76h-4.38v8.76zM1173.0 1407.3h4.38v4.38h4.38v8.76h4.38v8.76h4.38v4.38h4.38v8.76h4.38v4.38h-48.18v-4.38h4.38v-8.76h4.38v-4.38h4.38v-8.76h4.38v-8.76h4.38v-4.38zM1173.0 1420.4h-4.38v8.76h-4.38v4.38h-4.38v8.76h30.66v-8.76h-4.38v-4.38h-4.38v-8.76h-4.38v-8.76h-4.38v8.76zM1187.0 1411.8h4.38v4.38h4.38v8.76h4.38v8.76h4.38v4.38h4.38v8.76h4.38v4.38h-48.18v-4.38h4.38v-8.76h4.38v-4.38h4.38v-8.76h4.38v-8.76h4.38v-4.38zM1187.0 1424.9h-4.38v8.76h-4.38v4.38h-4.38v8.76h30.66v-8.76h-4.38v-4.38h-4.38v-8.76h-4.38v-8.76h-4.38v8.76zM1213.7 1416.0h4.38v4.38h4.38v8.76h4.38v8.76h4.38v4.38h4.38v8.76h4.38v4.38h-48.18v-4.38h4.38v-8.76h4.38v-4.38h4.38v-8.76h4.38v-8.76h4.38v-4.38zM1213.7 1429.1h-4.38v8.76h-4.38v4.38h-4.38v8.76h30.66v-8.76h-4.38v-4.38h-4.38v-8.76h-4.38v-8.76h-4.38v8.76zM1239.3 1416.2h4.38v4.38h4.38v8.76h4.38v8.76h4.38v4.38h4.38v8.76h4.38v4.38h-48.18v-4.38h4.38v-8.76h4.38v-4.38h4.38v-8.76h4.38v-8.76h4.38v-4.38zM1239.3 1429.3h-4.38v8.76h-4.38v4.38h-4.38v8.76h30.66v-8.76h-4.38v-4.38h-4.38v-8.76h-4.38v-8.76h-4.38v8.76zM1261.0 1420.7h4.38v4.38h4.38v8.76h4.38v8.76h4.38v4.38h4.38v8.76h4.38v4.38h-48.18v-4.38h4.38v-8.76h4.38v-4.38h4.38v-8.76h4.38v-8.76h4.38v-4.38zM1261.0 1433.8h-4.38v8.76h-4.38v4.38h-4.38v8.76h30.66v-8.76h-4.38v-4.38h-4.38v-8.76h-4.38v-8.76h-4.38v8.76zM1288.4 1425.5h4.38v4.38h4.38v8.76h4.38v8.76h4.38v4.38h4.38v8.76h4.38v4.38h-48.18v-4.38h4.38v-8.76h4.38v-4.38h4.38v-8.76h4.38v-8.76h4.38v-4.38zM1288.4 1438.6h-4.38v8.76h-4.38v4.38h-4.38v8.76h30.66v-8.76h-4.38v-4.38h-4.38v-8.76h-4.38v-8.76h-4.38v8.76zM1297.8 1428.3h4.38v4.38h4.38v8.76h4.38v8.76h4.38v4.38h4.38v8.76h4.38v4.38h-48.18v-4.38h4.38v-8.76h4.38v-4.38h4.38v-8.76h4.38v-8.76h4.38v-4.38zM1297.8 1441.4h-4.38v8.76h-4.38v4.38h-4.38v8.76h30.66v-8.76h-4.38v-4.38h-4.38v-8.76h-4.38v-8.76h-4.38v8.76zM1310.6 1430.4h4.38v4.38h4.38v8.76h4.38v8.76h4.38v4.38h4.38v8.76h4.38v4.38h-48.18v-4.38h4.38v-8.76h4.38v-4.38h4.38v-8.76h4.38v-8.76h4.38v-4.38zM1310.6 1443.5h-4.38v8.76h-4.38v4.38h-4.38v8.76h30.66v-8.76h-4.38v-4.38h-4.38v-8.76h-4.38v-8.76h-4.38v8.76zM1327.8 1432.3h4.38v4.38h4.38v8.76h4.38v8.76h4.38v4.38h4.38v8.76h4.38v4.38h-48.18v-4.38h4.38v-8.76h4.38v-4.38h4.38v-8.76h4.38v-8.76h4.38v-4.38zM1327.8 1445.4h-4.38v8.76h-4.38v4.38h-4.38v8.76h30.66v-8.76h-4.38v-4.38h-4.38v-8.76h-4.38v-8.76h-4.38v8.76zM1342.0 1434.5h4.38v4.38h4.38v8.76h4.38v8.76h4.38v4.38h4.38v8.76h4.38v4.38h-48.18v-4.38h4.38v-8.76h4.38v-4.38h4.38v-8.76h4.38v-8.76h4.38v-4.38zM1342.0 1447.6h-4.38v8.76h-4.38v4.38h-4.38v8.76h30.66v-8.76h-4.38v-4.38h-4.38v-8.76h-4.38v-8.76h-4.38v8.76zM1385.8 1443.6h4.38v4.38h4.38v8.76h4.38v8.76h4.38v4.38h4.38v8.76h4.38v4.38h-48.18v-4.38h4.38v-8.76h4.38v-4.38h4.38v-8.76h4.38v-8.76h4.38v-4.38zM1385.8 1456.7h-4.38v8.76h-4.38v4.38h-4.38v8.76h30.66v-8.76h-4.38v-4.38h-4.38v-8.76h-4.38v-8.76h-4.38v8.76zM1407.4 1448.5h4.38v4.38h4.38v8.76h4.38v8.76h4.38v4.38h4.38v8.76h4.38v4.38h-48.18v-4.38h4.38v-8.76h4.38v-4.38h4.38v-8.76h4.38v-8.76h4.38v-4.38zM1407.4 1461.6h-4.38v8.76h-4.38v4.38h-4.38v8.76h30.66v-8.76h-4.38v-4.38h-4.38v-8.76h-4.38v-8.76h-4.38v8.76zM1452.2 1465.0h4.38v4.38h4.38v8.76h4.38v8.76h4.38v4.38h4.38v8.76h4.38v4.38h-48.18v-4.38h4.38v-8.76h4.38v-4.38h4.38v-8.76h4.38v-8.76h4.38v-4.38zM1452.2 1478.1h-4.38v8.76h-4.38v4.38h-4.38v8.76h30.66v-8.76h-4.38v-4.38h-4.38v-8.76h-4.38v-8.76h-4.38v8.76zM1461.0 1452.6h4.38v4.38h4.38v8.76h4.38v8.76h4.38v4.38h4.38v8.76h4.38v4.38h-48.18v-4.38h4.38v-8.76h4.38v-4.38h4.38v-8.76h4.38v-8.76h4.38v-4.38zM1461.0 1465.7h-4.38v8.76h-4.38v4.38h-4.38v8.76h30.66v-8.76h-4.38v-4.38h-4.38v-8.76h-4.38v-8.76h-4.38v8.76zM1513.8 1455.8h4.38v4.38h4.38v8.76h4.38v8.76h4.38v4.38h4.38v8.76h4.38v4.38h-48.18v-4.38h4.38v-8.76h4.38v-4.38h4.38v-8.76h4.38v-8.76h4.38v-4.38zM1513.8 1468.9h-4.38v8.76h-4.38v4.38h-4.38v8.76h30.66v-8.76h-4.38v-4.38h-4.38v-8.76h-4.38v-8.76h-4.38v8.76zM1527.8 1458.3h4.38v4.38h4.38v8.76h4.38v8.76h4.38v4.38h4.38v8.76h4.38v4.38h-48.18v-4.38h4.38v-8.76h4.38v-4.38h4.38v-8.76h4.38v-8.76h4.38v-4.38zM1527.8 1471.4h-4.38v8.76h-4.38v4.38h-4.38v8.76h30.66v-8.76h-4.38v-4.38h-4.38v-8.76h-4.38v-8.76h-4.38v8.76zM1549.3 1460.6h4.38v4.38h4.38v8.76h4.38v8.76h4.38v4.38h4.38v8.76h4.38v4.38h-48.18v-4.38h4.38v-8.76h4.38v-4.38h4.38v-8.76h4.38v-8.76h4.38v-4.38zM1549.3 1473.7h-4.38v8.76h-4.38v4.38h-4.38v8.76h30.66v-8.76h-4.38v-4.38h-4.38v-8.76h-4.38v-8.76h-4.38v8.76zM1611.3 1465.5h4.38v4.38h4.38v8.76h4.38v8.76h4.38v4.38h4.38v8.76h4.38v4.38h-48.18v-4.38h4.38v-8.76h4.38v-4.38h4.38v-8.76h4.38v-8.76h4.38v-4.38zM1611.3 1478.6h-4.38v8.76h-4.38v4.38h-4.38v8.76h30.66v-8.76h-4.38v-4.38h-4.38v-8.76h-4.38v-8.76h-4.38v8.76zM1655.8 1469.7h4.38v4.38h4.38v8.76h4.38v8.76h4.38v4.38h4.38v8.76h4.38v4.38h-48.18v-4.38h4.38v-8.76h4.38v-4.38h4.38v-8.76h4.38v-8.76h4.38v-4.38zM1655.8 1482.8h-4.38v8.76h-4.38v4.38h-4.38v8.76h30.66v-8.76h-4.38v-4.38h-4.38v-8.76h-4.38v-8.76h-4.38v8.76zM1695.5 1474.5h4.38v4.38h4.38v8.76h4.38v8.76h4.38v4.38h4.38v8.76h4.38v4.38h-48.18v-4.38h4.38v-8.76h4.38v-4.38h4.38v-8.76h4.38v-8.76h4.38v-4.38zM1695.5 1487.6h-4.38v8.76h-4.38v4.38h-4.38v8.76h30.66v-8.76h-4.38v-4.38h-4.38v-8.76h-4.38v-8.76h-4.38v8.76zM1761.6 1478.7h4.38v4.38h4.38v8.76h4.38v8.76h4.38v4.38h4.38v8.76h4.38v4.38h-48.18v-4.38h4.38v-8.76h4.38v-4.38h4.38v-8.76h4.38v-8.76h4.38v-4.38zM1761.6 1491.8h-4.38v8.76h-4.38v4.38h-4.38v8.76h30.66v-8.76h-4.38v-4.38h-4.38v-8.76h-4.38v-8.76h-4.38v8.76zM1836.3 1486.6h4.38v4.38h4.38v8.76h4.38v8.76h4.38v4.38h4.38v8.76h4.38v4.38h-48.18v-4.38h4.38v-8.76h4.38v-4.38h4.38v-8.76h4.38v-8.76h4.38v-4.38zM1836.3 1499.7h-4.38v8.76h-4.38v4.38h-4.38v8.76h30.66v-8.76h-4.38v-4.38h-4.38v-8.76h-4.38v-8.76h-4.38v8.76zM1916.6 1487.2h4.38v4.38h4.38v8.76h4.38v8.76h4.38v4.38h4.38v8.76h4.38v4.38h-48.18v-4.38h4.38v-8.76h4.38v-4.38h4.38v-8.76h4.38v-8.76h4.38v-4.38zM1916.6 1500.3h-4.38v8.76h-4.38v4.38h-4.38v8.76h30.66v-8.76h-4.38v-4.38h-4.38v-8.76h-4.38v-8.76h-4.38v8.76zM1974.2 1491.3h4.38v4.38h4.38v8.76h4.38v8.76h4.38v4.38h4.38v8.76h4.38v4.38h-48.18v-4.38h4.38v-8.76h4.38v-4.38h4.38v-8.76h4.38v-8.76h4.38v-4.38zM1974.2 1504.4h-4.38v8.76h-4.38v4.38h-4.38v8.76h30.66v-8.76h-4.38v-4.38h-4.38v-8.76h-4.38v-8.76h-4.38v8.76zM2023.1 1491.3h4.38v4.38h4.38v8.76h4.38v8.76h4.38v4.38h4.38v8.76h4.38v4.38h-48.18v-4.38h4.38v-8.76h4.38v-4.38h4.38v-8.76h4.38v-8.76h4.38v-4.38zM2023.1 1504.4h-4.38v8.76h-4.38v4.38h-4.38v8.76h30.66v-8.76h-4.38v-4.38h-4.38v-8.76h-4.38v-8.76h-4.38v8.76z" fill="#00f" fill-rule="nonzero"/><path d="M213.8 36.0h13.14v4.38h8.76v8.76h4.38v13.14h-4.38v8.76h-8.76v4.38h-13.14v-4.38h-8.76v-8.76h-4.38v-13.14h4.38v-8.76h8.76v-4.38zM213.8 44.8h-4.38v4.38h-4.38v13.14h4.38v4.38h4.38v4.38h13.14v-4.38h4.38v-4.38h4.38v-13.14h-4.38v-4.38h-4.38v-4.38h-13.14v4.38zM218.2 54.0h13.14v4.38h8.76v8.76h4.38v13.14h-4.38v8.76h-8.76v4.38h-13.14v-4.38h-8.76v-8.76h-4.38v-13.14h4.38v-8.76h8.76v-4.38zM218.2 62.8h-4.38v4.38h-4.38v13.14h4.38v4.38h4.38v4.38h13.14v-4.38h4.38v-4.38h4.38v-13.14h-4.38v-4.38h-4.38v-4.38h-13.14v4.38zM222.6 76.3h13.14v4.38h8.76v8.76h4.38v13.14h-4.38v8.76h-8.76v4.38h-13.14v-4.38h-8.76v-8.76h-4.38v-13.14h4.38v-8.76h8.76v-4.38zM222.6 85.0h-4.38v4.38h-4.38v13.14h4.38v4.38h4.38v4.38h13.14v-4.38h4.38v-4.38h4.38v-13.14h-4.38v-4.38h-4.38v-4.38h-13.14v4.38zM235.9 107.0h13.14v4.38h8.76v8.76h4.38v13.14h-4.38v8.76h-8.76v4.38h-13.14v-4.38h-8.76v-8.76h-4.38v-13.14h4.38v-8.76h8.76v-4.38zM235.9 115.8h-4.38v4.38h-4.38v13.14h4.38v4.38h4.38v4.38h13.14v-4.38h4.38v-4.38h4.38v-13.14h-4.38v-4.38h-4.38v-4.38h-13.14v4.38zM240.3 133.3h13.14v4.38h8.76v8.76h4.38v13.14h-4.38v8.76h-8.76v4.38h-13.14v-4.38h-8.76v-8.76h-4.38v-13.14h4.38v-8.76h8.76v-4.38zM240.3 142.0h-4.38v4.38h-4.38v13.14h4.38v4.38h4.38v4.38h13.14v-4.38h4.38v-4.38h4.38v-13.14h-4.38v-4.38h-4.38v-4.38h-13.14v4.38zM253.6 176.1h13.14v4.38h8.76v8.76h4.38v13.14h-4.38v8.76h-8.76v4.38h-13.14v-4.38h-8.76v-8.76h-4.38v-13.14h4.38v-8.76h8.76v-4.38zM253.6 184.8h-4.38v4.38h-4.38v13.14h4.38v4.38h4.38v4.38h13.14v-4.38h4.38v-4.38h4.38v-13.14h-4.38v-4.38h-4.38v-4.38h-13.14v4.38zM266.8 213.4h13.14v4.38h8.76v8.76h4.38v13.14h-4.38v8.76h-8.76v4.38h-13.14v-4.38h-8.76v-8.76h-4.38v-13.14h4.38v-8.76h8.76v-4.38zM266.8 222.1h-4.38v4.38h-4.38v13.14h4.38v4.38h4.38v4.38h13.14v-4.38h4.38v-4.38h4.38v-13.14h-4.38v-4.38h-4.38v-4.38h-13.14v4.38zM289.4 252.9h13.14v4.38h8.76v8.76h4.38v13.14h-4.38v8.76h-8.76v4.38h-13.14v-4.38h-8.76v-8.76h-4.38v-13.14h4.38v-8.76h8.76v-4.38zM289.4 261.7h-4.38v4.38h-4.38v13.14h4.38v4.38h4.38v4.38h13.14v-4.38h4.38v-4.38h4.38v-13.14h-4.38v-4.38h-4.38v-4.38h-13.14v4.38zM306.6 301.6h13.14v4.38h8.76v8.76h4.38v13.14h-4.38v8.76h-8.76v4.38h-13.14v-4.38h-8.76v-8.76h-4.38v-13.14h4.38v-8.76h8.76v-4.38zM306.6 310.4h-4.38v4.38h-4.38v13.14h4.38v4.38h4.38v4.38h13.14v-4.38h4.38v-4.38h4.38v-13.14h-4.38v-4.38h-4.38v-4.38h-13.14v4.38zM321.4 345.3h13.14v4.38h8.76v8.76h4.38v13.14h-4.38v8.76h-8.76v4.38h-13.14v-4.38h-8.76v-8.76h-4.38v-13.14h4.38v-8.76h8.76v-4.38zM321.4 354.1h-4.38v4.38h-4.38v13.14h4.38v4.38h4.38v4.38h13.14v-4.38h4.38v-4.38h4.38v-13.14h-4.38v-4.38h-4.38v-4.38h-13.14v4.38zM333.4 374.3h13.14v4.38h8.76v8.76h4.38v13.14h-4.38v8.76h-8.76v4.38h-13.14v-4.38h-8.76v-8.76h-4.38v-13.14h4.38v-8.76h8.76v-4.38zM333.4 383.1h-4.38v4.38h-4.38v13.14h4.38v4.38h4.38v4.38h13.14v-4.38h4.38v-4.38h4.38v-13.14h-4.38v-4.38h-4.38v-4.38h-13.14v4.38zM355.2 417.0h13.14v4.38h8.76v8.76h4.38v13.14h-4.38v8.76h-8.76v4.38h-13.14v-4.38h-8.76v-8.76h-4.38v-13.14h4.38v-8.76h8.76v-4.38zM355.2 425.8h-4.38v4.38h-4.38v13.14h4.38v4.38h4.38v4.38h13.14v-4.38h4.38v-4.38h4.38v-13.14h-4.38v-4.38h-4.38v-4.38h-13.14v4.38zM373.1 461.1h13.14v4.38h8.76v8.76h4.38v13.14h-4.38v8.76h-8.76v4.38h-13.14v-4.38h-8.76v-8.76h-4.38v-13.14h4.38v-8.76h8.76v-4.38zM373.1 469.9h-4.38v4.38h-4.38v13.14h4.38v4.38h4.38v4.38h13.14v-4.38h4.38v-4.38h4.38v-13.14h-4.38v-4.38h-4.38v-4.38h-13.14v4.38zM386.2 501.3h13.14v4.38h8.76v8.76h4.38v13.14h-4.38v8.76h-8.76v4.38h-13.14v-4.38h-8.76v-8.76h-4.38v-13.14h4.38v-8.76h8.76v-4.38zM386.2 510.1h-4.38v4.38h-4.38v13.14h4.38v4.38h4.38v4.38h13.14v-4.38h4.38v-4.38h4.38v-13.14h-4.38v-4.38h-4.38v-4.38h-13.14v4.38zM412.9 544.8h13.14v4.38h8.76v8.76h4.38v13.14h-4.38v8.76h-8.76v4.38h-13.14v-4.38h-8.76v-8.76h-4.38v-13.14h4.38v-8.76h8.76v-4.38zM412.9 553.5h-4.38v4.38h-4.38v13.14h4.38v4.38h4.38v4.38h13.14v-4.38h4.38v-4.38h4.38v-13.14h-4.38v-4.38h-4.38v-4.38h-13.14v4.38zM426.1 584.7h13.14v4.38h8.76v8.76h4.38v13.14h-4.38v8.76h-8.76v4.38h-13.14v-4.38h-8.76v-8.76h-4.38v-13.14h4.38v-8.76h8.76v-4.38zM426.1 593.4h-4.38v4.38h-4.38v13.14h4.38v4.38h4.38v4.38h13.14v-4.38h4.38v-4.38h4.38v-13.14h-4.38v-4.38h-4.38v-4.38h-13.14v4.38zM435.0 614.3h13.14v4.38h8.76v8.76h4.38v13.14h-4.38v8.76h-8.76v4.38h-13.14v-4.38h-8.76v-8.76h-4.38v-13.14h4.38v-8.76h8.76v-4.38zM435.0 623.0h-4.38v4.38h-4.38v13.14h4.38v4.38h4.38v4.38h13.14v-4.38h4.38v-4.38h4.38v-13.14h-4.38v-4.38h-4.38v-4.38h-13.14v4.38zM452.5 650.6h13.14v4.38h8.76v8.76h4.38v13.14h-4.38v8.76h-8.76v4.38h-13.14v-4.38h-8.76v-8.76h-4.38v-13.14h4.38v-8.76h8.76v-4.38zM452.5 659.3h-4.38v4.38h-4.38v13.14h4.38v4.38h4.38v4.38h13.14v-4.38h4.38v-4.38h4.38v-13.14h-4.38v-4.38h-4.38v-4.38h-13.14v4.38zM469.9 694.9h13.14v4.38h8.76v8.76h4.38v13.14h-4.38v8.76h-8.76v4.38h-13.14v-4.38h-8.76v-8.76h-4.38v-13.14h4.38v-8.76h8.76v-4.38zM469.9 703.6h-4.38v4.38h-4.38v13.14h4.38v4.38h4.38v4.38h13.14v-4.38h4.38v-4.38h4.38v-13.14h-4.38v-4.38h-4.38v-4.38h-13.14v4.38zM483.6 731.0h13.14v4.38h8.76v8.76h4.38v13.14h-4.38v8.76h-8.76v4.38h-13.14v-4.38h-8.76v-8.76h-4.38v-13.14h4.38v-8.76h8.76v-4.38zM483.6 739.8h-4.38v4.38h-4.38v13.14h4.38v4.38h4.38v4.38h13.14v-4.38h4.38v-4.38h4.38v-13.14h-4.38v-4.38h-4.38v-4.38h-13.14v4.38zM505.3 768.6h13.14v4.38h8.76v8.76h4.38v13.14h-4.38v8.76h-8.76v4.38h-13.14v-4.38h-8.76v-8.76h-4.38v-13.14h4.38v-8.76h8.76v-4.38zM505.3 777.3h-4.38v4.38h-4.38v13.14h4.38v4.38h4.38v4.38h13.14v-4.38h4.38v-4.38h4.38v-13.14h-4.38v-4.38h-4.38v-4.38h-13.14v4.38zM523.4 801.4h13.14v4.38h8.76v8.76h4.38v13.14h-4.38v8.76h-8.76v4.38h-13.14v-4.38h-8.76v-8.76h-4.38v-13.14h4.38v-8.76h8.76v-4.38zM523.4 810.1h-4.38v4.38h-4.38v13.14h4.38v4.38h4.38v4.38h13.14v-4.38h4.38v-4.38h4.38v-13.14h-4.38v-4.38h-4.38v-4.38h-13.14v4.38zM545.9 852.3h13.14v4.38h8.76v8.76h4.38v13.14h-4.38v8.76h-8.76v4.38h-13.14v-4.38h-8.76v-8.76h-4.38v-13.14h4.38v-8.76h8.76v-4.38zM545.9 861.0h-4.38v4.38h-4.38v13.14h4.38v4.38h4.38v4.38h13.14v-4.38h4.38v-4.38h4.38v-13.14h-4.38v-4.38h-4.38v-4.38h-13.14v4.38zM568.0 892.3h13.14v4.38h8.76v8.76h4.38v13.14h-4.38v8.76h-8.76v4.38h-13.14v-4.38h-8.76v-8.76h-4.38v-13.14h4.38v-8.76h8.76v-4.38zM568.0 901.0h-4.38v4.38h-4.38v13.14h4.38v4.38h4.38v4.38h13.14v-4.38h4.38v-4.38h4.38v-13.14h-4.38v-4.38h-4.38v-4.38h-13.14v4.38zM585.2 924.0h13.14v4.38h8.76v8.76h4.38v13.14h-4.38v8.76h-8.76v4.38h-13.14v-4.38h-8.76v-8.76h-4.38v-13.14h4.38v-8.76h8.76v-4.38zM585.2 932.8h-4.38v4.38h-4.38v13.14h4.38v4.38h4.38v4.38h13.14v-4.38h4.38v-4.38h4.38v-13.14h-4.38v-4.38h-4.38v-4.38h-13.14v4.38zM598.4 953.0h13.14v4.38h8.76v8.76h4.38v13.14h-4.38v8.76h-8.76v4.38h-13.14v-4.38h-8.76v-8.76h-4.38v-13.14h4.38v-8.76h8.76v-4.38zM598.4 961.8h-4.38v4.38h-4.38v13.14h4.38v4.38h4.38v4.38h13.14v-4.38h4.38v-4.38h4.38v-13.14h-4.38v-4.38h-4.38v-4.38h-13.14v4.38zM616.1 974.6h13.14v4.38h8.76v8.76h4.38v13.14h-4.38v8.76h-8.76v4.38h-13.14v-4.38h-8.76v-8.76h-4.38v-13.14h4.38v-8.76h8.76v-4.38zM616.1 983.3h-4.38v4.38h-4.38v13.14h4.38v4.38h4.38v4.38h13.14v-4.38h4.38v-4.38h4.38v-13.14h-4.38v-4.38h-4.38v-4.38h-13.14v4.38zM629.2 1001.3h13.14v4.38h8.76v8.76h4.38v13.14h-4.38v8.76h-8.76v4.38h-13.14v-4.38h-8.76v-8.76h-4.38v-13.14h4.38v-8.76h8.76v-4.38zM629.2 1010.0h-4.38v4.38h-4.38v13.14h4.38v4.38h4.38v4.38h13.14v-4.38h4.38v-4.38h4.38v-13.14h-4.38v-4.38h-4.38v-4.38h-13.14v4.38zM647.3 1023.8h13.14v4.38h8.76v8.76h4.38v13.14h-4.38v8.76h-8.76v4.38h-13.14v-4.38h-8.76v-8.76h-4.38v-13.14h4.38v-8.76h8.76v-4.38zM647.3 1032.5h-4.38v4.38h-4.38v13.14h4.38v4.38h4.38v4.38h13.14v-4.38h4.38v-4.38h4.38v-13.14h-4.38v-4.38h-4.38v-4.38h-13.14v4.38zM674.0 1061.9h13.14v4.38h8.76v8.76h4.38v13.14h-4.38v8.76h-8.76v4.38h-13.14v-4.38h-8.76v-8.76h-4.38v-13.14h4.38v-8.76h8.76v-4.38zM674.0 1070.6h-4.38v4.38h-4.38v13.14h4.38v4.38h4.38v4.38h13.14v-4.38h4.38v-4.38h4.38v-13.14h-4.38v-4.38h-4.38v-4.38h-13.14v4.38zM691.3 1091.3h13.14v4.38h8.76v8.76h4.38v13.14h-4.38v8.76h-8.76v4.38h-13.14v-4.38h-8.76v-8.76h-4.38v-13.14h4.38v-8.76h8.76v-4.38zM691.3 1100.0h-4.38v4.38h-4.38v13.14h4.38v4.38h4.38v4.38h13.14v-4.38h4.38v-4.38h4.38v-13.14h-4.38v-4.38h-4.38v-4.38h-13.14v4.38zM705.1 1126.3h13.14v4.38h8.76v8.76h4.38v13.14h-4.38v8.76h-8.76v4.38h-13.14v-4.38h-8.76v-8.76h-4.38v-13.14h4.38v-8.76h8.76v-4.38zM705.1 1135.0h-4.38v4.38h-4.38v13.14h4.38v4.38h4.38v4.38h13.14v-4.38h4.38v-4.38h4.38v-13.14h-4.38v-4.38h-4.38v-4.38h-13.14v4.38zM719.4 1152.3h13.14v4.38h8.76v8.76h4.38v13.14h-4.38v8.76h-8.76v4.38h-13.14v-4.38h-8.76v-8.76h-4.38v-13.14h4.38v-8.76h8.76v-4.38zM719.4 1161.0h-4.38v4.38h-4.38v13.14h4.38v4.38h4.38v4.38h13.14v-4.38h4.38v-4.38h4.38v-13.14h-4.38v-4.38h-4.38v-4.38h-13.14v4.38zM748.4 1170.3h13.14v4.38h8.76v8.76h4.38v13.14h-4.38v8.76h-8.76v4.38h-13.14v-4.38h-8.76v-8.76h-4.38v-13.14h4.38v-8.76h8.76v-4.38zM748.4 1179.0h-4.38v4.38h-4.38v13.14h4.38v4.38h4.38v4.38h13.14v-4.38h4.38v-4.38h4.38v-13.14h-4.38v-4.38h-4.38v-4.38h-13.14v4.38zM769.4 1204.3h13.14v4.38h8.76v8.76h4.38v13.14h-4.38v8.76h-8.76v4.38h-13.14v-4.38h-8.76v-8.76h-4.38v-13.14h4.38v-8.76h8.76v-4.38zM769.4 1213.0h-4.38v4.38h-4.38v13.14h4.38v4.38h4.38v4.38h13.14v-4.38h4.38v-4.38h4.38v-13.14h-4.38v-4.38h-4.38v-4.38h-13.14v4.38zM793.4 1225.3h13.14v4.38h8.76v8.76h4.38v13.14h-4.38v8.76h-8.76v4.38h-13.14v-4.38h-8.76v-8.76h-4.38v-13.14h4.38v-8.76h8.76v-4.38zM793.4 1234.0h-4.38v4.38h-4.38v13.14h4.38v4.38h4.38v4.38h13.14v-4.38h4.38v-4.38h4.38v-13.14h-4.38v-4.38h-4.38v-4.38h-13.14v4.38zM824.0 1245.7h13.14v4.38h8.76v8.76h4.38v13.14h-4.38v8.76h-8.76v4.38h-13.14v-4.38h-8.76v-8.76h-4.38v-13.14h4.38v-8.76h8.76v-4.38zM824.0 1254.5h-4.38v4.38h-4.38v13.14h4.38v4.38h4.38v4.38h13.14v-4.38h4.38v-4.38h4.38v-13.14h-4.38v-4.38h-4.38v-4.38h-13.14v4.38zM855.3 1271.4h13.14v4.38h8.76v8.76h4.38v13.14h-4.38v8.76h-8.76v4.38h-13.14v-4.38h-8.76v-8.76h-4.38v-13.14h4.38v-8.76h8.76v-4.38zM855.3 1280.2h-4.38v4.38h-4.38v13.14h4.38v4.38h4.38v4.38h13.14v-4.38h4.38v-4.38h4.38v-13.14h-4.38v-4.38h-4.38v-4.38h-13.14v4.38zM877.8 1293.0h13.14v4.38h8.76v8.76h4.38v13.14h-4.38v8.76h-8.76v4.38h-13.14v-4.38h-8.76v-8.76h-4.38v-13.14h4.38v-8.76h8.76v-4.38zM877.8 1301.7h-4.38v4.38h-4.38v13.14h4.38v4.38h4.38v4.38h13.14v-4.38h4.38v-4.38h4.38v-13.14h-4.38v-4.38h-4.38v-4.38h-13.14v4.38zM903.8 1310.7h13.14v4.38h8.76v8.76h4.38v13.14h-4.38v8.76h-8.76v4.38h-13.14v-4.38h-8.76v-8.76h-4.38v-13.14h4.38v-8.76h8.76v-4.38zM903.8 1319.4h-4.38v4.38h-4.38v13.14h4.38v4.38h4.38v4.38h13.14v-4.38h4.38v-4.38h4.38v-13.14h-4.38v-4.38h-4.38v-4.38h-13.14v4.38zM926.1 1320.0h13.14v4.38h8.76v8.76h4.38v13.14h-4.38v8.76h-8.76v4.38h-13.14v-4.38h-8.76v-8.76h-4.38v-13.14h4.38v-8.76h8.76v-4.38zM926.1 1328.7h-4.38v4.38h-4.38v13.14h4.38v4.38h4.38v4.38h13.14v-4.38h4.38v-4.38h4.38v-13.14h-4.38v-4.38h-4.38v-4.38h-13.14v4.38zM944.1 1337.6h13.14v4.38h8.76v8.76h4.38v13.14h-4.38v8.76h-8.76v4.38h-13.14v-4.38h-8.76v-8.76h-4.38v-13.14h4.38v-8.76h8.76v-4.38zM944.1 1346.4h-4.38v4.38h-4.38v13.14h4.38v4.38h4.38v4.38h13.14v-4.38h4.38v-4.38h4.38v-13.14h-4.38v-4.38h-4.38v-4.38h-13.14v4.38zM966.5 1345.6h13.14v4.38h8.76v8.76h4.38v13.14h-4.38v8.76h-8.76v4.38h-13.14v-4.38h-8.76v-8.76h-4.38v-13.14h4.38v-8.76h8.76v-4.38zM966.5 1354.4h-4.38v4.38h-4.38v13.14h4.38v4.38h4.38v4.38h13.14v-4.38h4.38v-4.38h4.38v-13.14h-4.38v-4.38h-4.38v-4.38h-13.14v4.38zM997.9 1359.3h13.14v4.38h8.76v8.76h4.38v13.14h-4.38v8.76h-8.76v4.38h-13.14v-4.38h-8.76v-8.76h-4.38v-13.14h4.38v-8.76h8.76v-4.38zM997.9 1368.0h-4.38v4.38h-4.38v13.14h4.38v4.38h4.38v4.38h13.14v-4.38h4.38v-4.38h4.38v-13.14h-4.38v-4.38h-4.38v-4.38h-13.14v4.38zM1020.4 1370.3h13.14v4.38h8.76v8.76h4.38v13.14h-4.38v8.76h-8.76v4.38h-13.14v-4.38h-8.76v-8.76h-4.38v-13.14h4.38v-8.76h8.76v-4.38zM1020.4 1379.0h-4.38v4.38h-4.38v13.14h4.38v4.38h4.38v4.38h13.14v-4.38h4.38v-4.38h4.38v-13.14h-4.38v-4.38h-4.38v-4.38h-13.14v4.38zM1053.4 1384.8h13.14v4.38h8.76v8.76h4.38v13.14h-4.38v8.76h-8.76v4.38h-13.14v-4.38h-8.76v-8.76h-4.38v-13.14h4.38v-8.76h8.76v-4.38zM1053.4 1393.5h-4.38v4.38h-4.38v13.14h4.38v4.38h4.38v4.38h13.14v-4.38h4.38v-4.38h4.38v-13.14h-4.38v-4.38h-4.38v-4.38h-13.14v4.38zM1078.4 1394.0h13.14v4.38h8.76v8.76h4.38v13.14h-4.38v8.76h-8.76v4.38h-13.14v-4.38h-8.76v-8.76h-4.38v-13.14h4.38v-8.76h8.76v-4.38zM1078.4 1402.8h-4.38v4.38h-4.38v13.14h4.38v4.38h4.38v4.38h13.14v-4.38h4.38v-4.38h4.38v-13.14h-4.38v-4.38h-4.38v-4.38h-13.14v4.38zM1102.4 1394.0h13.14v4.38h8.76v8.76h4.38v13.14h-4.38v8.76h-8.76v4.38h-13.14v-4.38h-8.76v-8.76h-4.38v-13.14h4.38v-8.76h8.76v-4.38zM1102.4 1402.8h-4.38v4.38h-4.38v13.14h4.38v4.38h4.38v4.38h13.14v-4.38h4.38v-4.38h4.38v-13.14h-4.38v-4.38h-4.38v-4.38h-13.14v4.38zM1134.1 1402.3h13.14v4.38h8.76v8.76h4.38v13.14h-4.38v8.76h-8.76v4.38h-13.14v-4.38h-8.76v-8.76h-4.38v-13.14h4.38v-8.76h8.76v-4.38zM1134.1 1411.0h-4.38v4.38h-4.38v13.14h4.38v4.38h4.38v4.38h13.14v-4.38h4.38v-4.38h4.38v-13.14h-4.38v-4.38h-4.38v-4.38h-13.14v4.38zM1155.4 1412.1h13.14v4.38h8.76v8.76h4.38v13.14h-4.38v8.76h-8.76v4.38h-13.14v-4.38h-8.76v-8.76h-4.38v-13.14h4.38v-8.76h8.76v-4.38zM1155.4 1420.8h-4.38v4.38h-4.38v13.14h4.38v4.38h4.38v4.38h13.14v-4.38h4.38v-4.38h4.38v-13.14h-4.38v-4.38h-4.38v-4.38h-13.14v4.38zM1177.4 1420.7h13.14v4.38h8.76v8.76h4.38v13.14h-4.38v8.76h-8.76v4.38h-13.14v-4.38h-8.76v-8.76h-4.38v-13.14h4.38v-8.76h8.76v-4.38zM1177.4 1429.5h-4.38v4.38h-4.38v13.14h4.38v4.38h4.38v4.38h13.14v-4.38h4.38v-4.38h4.38v-13.14h-4.38v-4.38h-4.38v-4.38h-13.14v4.38zM1200.0 1420.7h13.14v4.38h8.76v8.76h4.38v13.14h-4.38v8.76h-8.76v4.38h-13.14v-4.38h-8.76v-8.76h-4.38v-13.14h4.38v-8.76h8.76v-4.38zM1200.0 1429.5h-4.38v4.38h-4.38v13.14h4.38v4.38h4.38v4.38h13.14v-4.38h4.38v-4.38h4.38v-13.14h-4.38v-4.38h-4.38v-4.38h-13.14v4.38zM1222.2 1429.5h13.14v4.38h8.76v8.76h4.38v13.14h-4.38v8.76h-8.76v4.38h-13.14v-4.38h-8.76v-8.76h-4.38v-13.14h4.38v-8.76h8.76v-4.38zM1222.2 1438.2h-4.38v4.38h-4.38v13.14h4.38v4.38h4.38v4.38h13.14v-4.38h4.38v-4.38h4.38v-13.14h-4.38v-4.38h-4.38v-4.38h-13.14v4.38zM1253.0 1432.3h13.14v4.38h8.76v8.76h4.38v13.14h-4.38v8.76h-8.76v4.38h-13.14v-4.38h-8.76v-8.76h-4.38v-13.14h4.38v-8.76h8.76v-4.38zM1253.0 1441.0h-4.38v4.38h-4.38v13.14h4.38v4.38h4.38v4.38h13.14v-4.38h4.38v-4.38h4.38v-13.14h-4.38v-4.38h-4.38v-4.38h-13.14v4.38zM1288.4 1436.3h13.14v4.38h8.76v8.76h4.38v13.14h-4.38v8.76h-8.76v4.38h-13.14v-4.38h-8.76v-8.76h-4.38v-13.14h4.38v-8.76h8.76v-4.38zM1288.4 1445.0h-4.38v4.38h-4.38v13.14h4.38v4.38h4.38v4.38h13.14v-4.38h4.38v-4.38h4.38v-13.14h-4.38v-4.38h-4.38v-4.38h-13.14v4.38zM1323.4 1436.3h13.14v4.38h8.76v8.76h4.38v13.14h-4.38v8.76h-8.76v4.38h-13.14v-4.38h-8.76v-8.76h-4.38v-13.14h4.38v-8.76h8.76v-4.38zM1323.4 1445.0h-4.38v4.38h-4.38v13.14h4.38v4.38h4.38v4.38h13.14v-4.38h4.38v-4.38h4.38v-13.14h-4.38v-4.38h-4.38v-4.38h-13.14v4.38zM1354.9 1441.3h13.14v4.38h8.76v8.76h4.38v13.14h-4.38v8.76h-8.76v4.38h-13.14v-4.38h-8.76v-8.76h-4.38v-13.14h4.38v-8.76h8.76v-4.38zM1354.9 1450.0h-4.38v4.38h-4.38v13.14h4.38v4.38h4.38v4.38h13.14v-4.38h4.38v-4.38h4.38v-13.14h-4.38v-4.38h-4.38v-4.38h-13.14v4.38zM1385.9 1445.5h13.14v4.38h8.76v8.76h4.38v13.14h-4.38v8.76h-8.76v4.38h-13.14v-4.38h-8.76v-8.76h-4.38v-13.14h4.38v-8.76h8.76v-4.38zM1385.9 1454.2h-4.38v4.38h-4.38v13.14h4.38v4.38h4.38v4.38h13.14v-4.38h4.38v-4.38h4.38v-13.14h-4.38v-4.38h-4.38v-4.38h-13.14v4.38zM1412.9 1449.6h13.14v4.38h8.76v8.76h4.38v13.14h-4.38v8.76h-8.76v4.38h-13.14v-4.38h-8.76v-8.76h-4.38v-13.14h4.38v-8.76h8.76v-4.38zM1412.9 1458.3h-4.38v4.38h-4.38v13.14h4.38v4.38h4.38v4.38h13.14v-4.38h4.38v-4.38h4.38v-13.14h-4.38v-4.38h-4.38v-4.38h-13.14v4.38zM1430.1 1456.2h13.14v4.38h8.76v8.76h4.38v13.14h-4.38v8.76h-8.76v4.38h-13.14v-4.38h-8.76v-8.76h-4.38v-13.14h4.38v-8.76h8.76v-4.38zM1430.1 1465.0h-4.38v4.38h-4.38v13.14h4.38v4.38h4.38v4.38h13.14v-4.38h4.38v-4.38h4.38v-13.14h-4.38v-4.38h-4.38v-4.38h-13.14v4.38zM1465.6 1454.5h13.14v4.38h8.76v8.76h4.38v13.14h-4.38v8.76h-8.76v4.38h-13.14v-4.38h-8.76v-8.76h-4.38v-13.14h4.38v-8.76h8.76v-4.38zM1465.6 1463.2h-4.38v4.38h-4.38v13.14h4.38v4.38h4.38v4.38h13.14v-4.38h4.38v-4.38h4.38v-13.14h-4.38v-4.38h-4.38v-4.38h-13.14v4.38zM1501.2 1459.4h13.14v4.38h8.76v8.76h4.38v13.14h-4.38v8.76h-8.76v4.38h-13.14v-4.38h-8.76v-8.76h-4.38v-13.14h4.38v-8.76h8.76v-4.38zM1501.2 1468.1h-4.38v4.38h-4.38v13.14h4.38v4.38h4.38v4.38h13.14v-4.38h4.38v-4.38h4.38v-13.14h-4.38v-4.38h-4.38v-4.38h-13.14v4.38zM1518.4 1463.6h13.14v4.38h8.76v8.76h4.38v13.14h-4.38v8.76h-8.76v4.38h-13.14v-4.38h-8.76v-8.76h-4.38v-13.14h4.38v-8.76h8.76v-4.38zM1518.4 1472.3h-4.38v4.38h-4.38v13.14h4.38v4.38h4.38v4.38h13.14v-4.38h4.38v-4.38h4.38v-13.14h-4.38v-4.38h-4.38v-4.38h-13.14v4.38zM1558.4 1468.7h13.14v4.38h8.76v8.76h4.38v13.14h-4.38v8.76h-8.76v4.38h-13.14v-4.38h-8.76v-8.76h-4.38v-13.14h4.38v-8.76h8.76v-4.38zM1558.4 1477.5h-4.38v4.38h-4.38v13.14h4.38v4.38h4.38v4.38h13.14v-4.38h4.38v-4.38h4.38v-13.14h-4.38v-4.38h-4.38v-4.38h-13.14v4.38zM1584.6 1468.7h13.14v4.38h8.76v8.76h4.38v13.14h-4.38v8.76h-8.76v4.38h-13.14v-4.38h-8.76v-8.76h-4.38v-13.14h4.38v-8.76h8.76v-4.38zM1584.6 1477.5h-4.38v4.38h-4.38v13.14h4.38v4.38h4.38v4.38h13.14v-4.38h4.38v-4.38h4.38v-13.14h-4.38v-4.38h-4.38v-4.38h-13.14v4.38zM1615.9 1473.6h13.14v4.38h8.76v8.76h4.38v13.14h-4.38v8.76h-8.76v4.38h-13.14v-4.38h-8.76v-8.76h-4.38v-13.14h4.38v-8.76h8.76v-4.38zM1615.9 1482.3h-4.38v4.38h-4.38v13.14h4.38v4.38h4.38v4.38h13.14v-4.38h4.38v-4.38h4.38v-13.14h-4.38v-4.38h-4.38v-4.38h-13.14v4.38zM1642.4 1477.8h13.14v4.38h8.76v8.76h4.38v13.14h-4.38v8.76h-8.76v4.38h-13.14v-4.38h-8.76v-8.76h-4.38v-13.14h4.38v-8.76h8.76v-4.38zM1642.4 1486.5h-4.38v4.38h-4.38v13.14h4.38v4.38h4.38v4.38h13.14v-4.38h4.38v-4.38h4.38v-13.14h-4.38v-4.38h-4.38v-4.38h-13.14v4.38zM1673.3 1477.8h13.14v4.38h8.76v8.76h4.38v13.14h-4.38v8.76h-8.76v4.38h-13.14v-4.38h-8.76v-8.76h-4.38v-13.14h4.38v-8.76h8.76v-4.38zM1673.3 1486.5h-4.38v4.38h-4.38v13.14h4.38v4.38h4.38v4.38h13.14v-4.38h4.38v-4.38h4.38v-13.14h-4.38v-4.38h-4.38v-4.38h-13.14v4.38zM1708.5 1477.8h13.14v4.38h8.76v8.76h4.38v13.14h-4.38v8.76h-8.76v4.38h-13.14v-4.38h-8.76v-8.76h-4.38v-13.14h4.38v-8.76h8.76v-4.38zM1708.5 1486.5h-4.38v4.38h-4.38v13.14h4.38v4.38h4.38v4.38h13.14v-4.38h4.38v-4.38h4.38v-13.14h-4.38v-4.38h-4.38v-4.38h-13.14v4.38zM1735.2 1482.0h13.14v4.38h8.76v8.76h4.38v13.14h-4.38v8.76h-8.76v4.38h-13.14v-4.38h-8.76v-8.76h-4.38v-13.14h4.38v-8.76h8.76v-4.38zM1735.2 1490.8h-4.38v4.38h-4.38v13.14h4.38v4.38h4.38v4.38h13.14v-4.38h4.38v-4.38h4.38v-13.14h-4.38v-4.38h-4.38v-4.38h-13.14v4.38zM1774.9 1482.0h13.14v4.38h8.76v8.76h4.38v13.14h-4.38v8.76h-8.76v4.38h-13.14v-4.38h-8.76v-8.76h-4.38v-13.14h4.38v-8.76h8.76v-4.38zM1774.9 1490.8h-4.38v4.38h-4.38v13.14h4.38v4.38h4.38v4.38h13.14v-4.38h4.38v-4.38h4.38v-13.14h-4.38v-4.38h-4.38v-4.38h-13.14v4.38zM1802.0 1482.3h13.14v4.38h8.76v8.76h4.38v13.14h-4.38v8.76h-8.76v4.38h-13.14v-4.38h-8.76v-8.76h-4.38v-13.14h4.38v-8.76h8.76v-4.38zM1802.0 1491.0h-4.38v4.38h-4.38v13.14h4.38v4.38h4.38v4.38h13.14v-4.38h4.38v-4.38h4.38v-13.14h-4.38v-4.38h-4.38v-4.38h-13.14v4.38zM1833.0 1482.3h13.14v4.38h8.76v8.76h4.38v13.14h-4.38v8.76h-8.76v4.38h-13.14v-4.38h-8.76v-8.76h-4.38v-13.14h4.38v-8.76h8.76v-4.38zM1833.0 1491.0h-4.38v4.38h-4.38v13.14h4.38v4.38h4.38v4.38h13.14v-4.38h4.38v-4.38h4.38v-13.14h-4.38v-4.38h-4.38v-4.38h-13.14v4.38zM1872.7 1487.1h13.14v4.38h8.76v8.76h4.38v13.14h-4.38v8.76h-8.76v4.38h-13.14v-4.38h-8.76v-8.76h-4.38v-13.14h4.38v-8.76h8.76v-4.38zM1872.7 1495.8h-4.38v4.38h-4.38v13.14h4.38v4.38h4.38v4.38h13.14v-4.38h4.38v-4.38h4.38v-13.14h-4.38v-4.38h-4.38v-4.38h-13.14v4.38zM1907.6 1491.3h13.14v4.38h8.76v8.76h4.38v13.14h-4.38v8.76h-8.76v4.38h-13.14v-4.38h-8.76v-8.76h-4.38v-13.14h4.38v-8.76h8.76v-4.38zM1907.6 1500.0h-4.38v4.38h-4.38v13.14h4.38v4.38h4.38v4.38h13.14v-4.38h4.38v-4.38h4.38v-13.14h-4.38v-4.38h-4.38v-4.38h-13.14v4.38zM1939.1 1491.3h13.14v4.38h8.76v8.76h4.38v13.14h-4.38v8.76h-8.76v4.38h-13.14v-4.38h-8.76v-8.76h-4.38v-13.14h4.38v-8.76h8.76v-4.38zM1939.1 1500.0h-4.38v4.38h-4.38v13.14h4.38v4.38h4.38v4.38h13.14v-4.38h4.38v-4.38h4.38v-13.14h-4.38v-4.38h-4.38v-4.38h-13.14v4.38zM1974.2 1495.9h13.14v4.38h8.76v8.76h4.38v13.14h-4.38v8.76h-8.76v4.38h-13.14v-4.38h-8.76v-8.76h-4.38v-13.14h4.38v-8.76h8.76v-4.38zM1974.2 1504.6h-4.38v4.38h-4.38v13.14h4.38v4.38h4.38v4.38h13.14v-4.38h4.38v-4.38h4.38v-13.14h-4.38v-4.38h-4.38v-4.38h-13.14v4.38zM2009.7 1495.9h13.14v4.38h8.76v8.76h4.38v13.14h-4.38v8.76h-8.76v4.38h-13.14v-4.38h-8.76v-8.76h-4.38v-13.14h4.38v-8.76h8.76v-4.38zM2009.7 1504.6h-4.38v4.38h-4.38v13.14h4.38v4.38h4.38v4.38h13.14v-4.38h4.38v-4.38h4.38v-13.14h-4.38v-4.38h-4.38v-4.38h-13.14v4.38z" fill="#f00" fill-rule="nonzero"/><rect x="216" y="47.2" width="1923.8" height="1512.6" fill="none" stroke="#000" stroke-width="4.2"/><rect x="1653.4" y="78" width="464" height="269.7" fill="#fff" stroke="#000" stroke-width="3.8"/><path d="M1757.3 107.1h39.42v39.42h-39.42v-39.42zM1761.7 142.1h30.66v-30.66h-30.66v30.66z" fill="#000" fill-rule="nonzero"/><path d="M1774.8 186.8h4.38v4.38h4.38v8.76h4.38v8.76h4.38v4.38h4.38v8.76h4.38v4.38h-48.18v-4.38h4.38v-8.76h4.38v-4.38h4.38v-8.76h4.38v-8.76h4.38v-4.38zM1774.8 199.9h-4.38v8.76h-4.38v4.38h-4.38v8.76h30.66v-8.76h-4.38v-4.38h-4.38v-8.76h-4.38v-8.76h-4.38v8.76z" fill="#00f" fill-rule="nonzero"/><path d="M1770.4 275.3h13.14v4.38h8.76v8.76h4.38v13.14h-4.38v8.76h-8.76v4.38h-13.14v-4.38h-8.76v-8.76h-4.38v-13.14h4.38v-8.76h8.76v-4.38zM1770.4 284.1h-4.38v4.38h-4.38v13.14h4.38v4.38h4.38v4.38h13.14v-4.38h4.38v-4.38h4.38v-13.14h-4.38v-4.38h-4.38v-4.38h-13.14v4.38z" fill="#f00" fill-rule="nonzero"/><rect x="884" y="458.5" width="995.2" height="561.5" fill="#fff"/><path d="M1047.4 1020v-14M1047.4 458.5v14M1286.4 1020v-14M1286.4 458.5v14M1520.8 1020v-14M1520.8 458.5v14M1759.7 1020v-14M1759.7 458.5v14M884 520.5h11M1879.2 520.5h-11M884 675.4h11M1879.2 675.4h-11M884 830.3h11M1879.2 830.3h-11M884 985.2h11M1879.2 985.2h-11" stroke="#000" stroke-width="4.2" fill="none"/><path d="M886.3 491.9h39.42v39.42h-39.42v-39.42zM890.7 526.9h30.66v-30.66h-30.66v30.66zM930.4 518.5h39.42v39.42h-39.42v-39.42zM934.8 553.5h30.66v-30.66h-30.66v30.66zM974.9 549.3h39.42v39.42h-39.42v-39.42zM979.3 584.3h30.66v-30.66h-30.66v30.66zM1041.1 598.2h39.42v39.42h-39.42v-39.42zM1045.5 633.2h30.66v-30.66h-30.66v30.66zM1085.2 633.6h39.42v39.42h-39.42v-39.42zM1089.6 668.6h30.66v-30.66h-30.66v30.66zM1111.8 664.3h39.42v39.42h-39.42v-39.42zM1116.2 699.3h30.66v-30.66h-30.66v30.66zM1173.8 691.0h39.42v39.42h-39.42v-39.42zM1178.2 726.0h30.66v-30.66h-30.66v30.66zM1218.1 704.3h39.42v39.42h-39.42v-39.42zM1222.5 739.3h30.66v-30.66h-30.66v30.66zM1284.5 748.3h39.42v39.42h-39.42v-39.42zM1288.9 783.3h30.66v-30.66h-30.66v30.66zM1368.4 775.1h39.42v39.42h-39.42v-39.42zM1372.8 810.1h30.66v-30.66h-30.66v30.66zM1434.6 806.1h39.42v39.42h-39.42v-39.42zM1439.0 841.1h30.66v-30.66h-30.66v30.66zM1523.4 832.4h39.42v39.42h-39.42v-39.42zM1527.8 867.4h30.66v-30.66h-30.66v30.66zM1567.5 854.6h39.42v39.42h-39.42v-39.42zM1571.9 889.6h30.66v-30.66h-30.66v30.66zM1633.7 885.5h39.42v39.42h-39.42v-39.42zM1638.1 920.5h30.66v-30.66h-30.66v30.66zM1678.1 903.3h39.42v39.42h-39.42v-39.42zM1682.5 938.3h30.66v-30.66h-30.66v30.66zM1722.3 920.9h39.42v39.42h-39.42v-39.42zM1726.7 955.9h30.66v-30.66h-30.66v30.66zM1788.6 934.3h39.42v39.42h-39.42v-39.42zM1793.0 969.3h30.66v-30.66h-30.66v30.66zM1855.0 947.7h39.42v39.42h-39.42v-39.42zM1859.4 982.7h30.66v-30.66h-30.66v30.66z" fill="#000" fill-rule="nonzero"/><path d="M925.9 602.1h4.38v4.38h4.38v8.76h4.38v8.76h4.38v4.38h4.38v8.76h4.38v4.38h-48.18v-4.38h4.38v-8.76h4.38v-4.38h4.38v-8.76h4.38v-8.76h4.38v-4.38zM925.9 615.2h-4.38v8.76h-4.38v4.38h-4.38v8.76h30.66v-8.76h-4.38v-4.38h-4.38v-8.76h-4.38v-8.76h-4.38v8.76zM989.6 629.0h4.38v4.38h4.38v8.76h4.38v8.76h4.38v4.38h4.38v8.76h4.38v4.38h-48.18v-4.38h4.38v-8.76h4.38v-4.38h4.38v-8.76h4.38v-8.76h4.38v-4.38zM989.6 642.1h-4.38v8.76h-4.38v4.38h-4.38v8.76h30.66v-8.76h-4.38v-4.38h-4.38v-8.76h-4.38v-8.76h-4.38v8.76zM1023.0 659.6h4.38v4.38h4.38v8.76h4.38v8.76h4.38v4.38h4.38v8.76h4.38v4.38h-48.18v-4.38h4.38v-8.76h4.38v-4.38h4.38v-8.76h4.38v-8.76h4.38v-4.38zM1023.0 672.7h-4.38v8.76h-4.38v4.38h-4.38v8.76h30.66v-8.76h-4.38v-4.38h-4.38v-8.76h-4.38v-8.76h-4.38v8.76zM1058.2 672.8h4.38v4.38h4.38v8.76h4.38v8.76h4.38v4.38h4.38v8.76h4.38v4.38h-48.18v-4.38h4.38v-8.76h4.38v-4.38h4.38v-8.76h4.38v-8.76h4.38v-4.38zM1058.2 685.9h-4.38v8.76h-4.38v4.38h-4.38v8.76h30.66v-8.76h-4.38v-4.38h-4.38v-8.76h-4.38v-8.76h-4.38v8.76zM1070.8 685.6h4.38v4.38h4.38v8.76h4.38v8.76h4.38v4.38h4.38v8.76h4.38v4.38h-48.18v-4.38h4.38v-8.76h4.38v-4.38h4.38v-8.76h4.38v-8.76h4.38v-4.38zM1070.8 698.7h-4.38v8.76h-4.38v4.38h-4.38v8.76h30.66v-8.76h-4.38v-4.38h-4.38v-8.76h-4.38v-8.76h-4.38v8.76zM1098.3 694.6h4.38v4.38h4.38v8.76h4.38v8.76h4.38v4.38h4.38v8.76h4.38v4.38h-48.18v-4.38h4.38v-8.76h4.38v-4.38h4.38v-8.76h4.38v-8.76h4.38v-4.38zM1098.3 707.7h-4.38v8.76h-4.38v4.38h-4.38v8.76h30.66v-8.76h-4.38v-4.38h-4.38v-8.76h-4.38v-8.76h-4.38v8.76zM1191.3 712.5h4.38v4.38h4.38v8.76h4.38v8.76h4.38v4.38h4.38v8.76h4.38v4.38h-48.18v-4.38h4.38v-8.76h4.38v-4.38h4.38v-8.76h4.38v-8.76h4.38v-4.38zM1191.3 725.6h-4.38v8.76h-4.38v4.38h-4.38v8.76h30.66v-8.76h-4.38v-4.38h-4.38v-8.76h-4.38v-8.76h-4.38v8.76zM1235.3 756.6h4.38v4.38h4.38v8.76h4.38v8.76h4.38v4.38h4.38v8.76h4.38v4.38h-48.18v-4.38h4.38v-8.76h4.38v-4.38h4.38v-8.76h4.38v-8.76h4.38v-4.38zM1235.3 769.7h-4.38v8.76h-4.38v4.38h-4.38v8.76h30.66v-8.76h-4.38v-4.38h-4.38v-8.76h-4.38v-8.76h-4.38v8.76zM1302.0 787.8h4.38v4.38h4.38v8.76h4.38v8.76h4.38v4.38h4.38v8.76h4.38v4.38h-48.18v-4.38h4.38v-8.76h4.38v-4.38h4.38v-8.76h4.38v-8.76h4.38v-4.38zM1302.0 800.9h-4.38v8.76h-4.38v4.38h-4.38v8.76h30.66v-8.76h-4.38v-4.38h-4.38v-8.76h-4.38v-8.76h-4.38v8.76zM1385.8 814.5h4.38v4.38h4.38v8.76h4.38v8.76h4.38v4.38h4.38v8.76h4.38v4.38h-48.18v-4.38h4.38v-8.76h4.38v-4.38h4.38v-8.76h4.38v-8.76h4.38v-4.38zM1385.8 827.6h-4.38v8.76h-4.38v4.38h-4.38v8.76h30.66v-8.76h-4.38v-4.38h-4.38v-8.76h-4.38v-8.76h-4.38v8.76zM1408.1 827.9h4.38v4.38h4.38v8.76h4.38v8.76h4.38v4.38h4.38v8.76h4.38v4.38h-48.18v-4.38h4.38v-8.76h4.38v-4.38h4.38v-8.76h4.38v-8.76h4.38v-4.38zM1408.1 841.0h-4.38v8.76h-4.38v4.38h-4.38v8.76h30.66v-8.76h-4.38v-4.38h-4.38v-8.76h-4.38v-8.76h-4.38v8.76zM1452.3 841.1h4.38v4.38h4.38v8.76h4.38v8.76h4.38v4.38h4.38v8.76h4.38v4.38h-48.18v-4.38h4.38v-8.76h4.38v-4.38h4.38v-8.76h4.38v-8.76h4.38v-4.38zM1452.3 854.2h-4.38v8.76h-4.38v4.38h-4.38v8.76h30.66v-8.76h-4.38v-4.38h-4.38v-8.76h-4.38v-8.76h-4.38v8.76zM1562.5 871.8h4.38v4.38h4.38v8.76h4.38v8.76h4.38v4.38h4.38v8.76h4.38v4.38h-48.18v-4.38h4.38v-8.76h4.38v-4.38h4.38v-8.76h4.38v-8.76h4.38v-4.38zM1562.5 884.9h-4.38v8.76h-4.38v4.38h-4.38v8.76h30.66v-8.76h-4.38v-4.38h-4.38v-8.76h-4.38v-8.76h-4.38v8.76zM1606.8 903.1h4.38v4.38h4.38v8.76h4.38v8.76h4.38v4.38h4.38v8.76h4.38v4.38h-48.18v-4.38h4.38v-8.76h4.38v-4.38h4.38v-8.76h4.38v-8.76h4.38v-4.38zM1606.8 916.2h-4.38v8.76h-4.38v4.38h-4.38v8.76h30.66v-8.76h-4.38v-4.38h-4.38v-8.76h-4.38v-8.76h-4.38v8.76zM1628.8 915.7h4.38v4.38h4.38v8.76h4.38v8.76h4.38v4.38h4.38v8.76h4.38v4.38h-48.18v-4.38h4.38v-8.76h4.38v-4.38h4.38v-8.76h4.38v-8.76h4.38v-4.38zM1628.8 928.8h-4.38v8.76h-4.38v4.38h-4.38v8.76h30.66v-8.76h-4.38v-4.38h-4.38v-8.76h-4.38v-8.76h-4.38v8.76zM1651.3 929.3h4.38v4.38h4.38v8.76h4.38v8.76h4.38v4.38h4.38v8.76h4.38v4.38h-48.18v-4.38h4.38v-8.76h4.38v-4.38h4.38v-8.76h4.38v-8.76h4.38v-4.38zM1651.3 942.4h-4.38v8.76h-4.38v4.38h-4.38v8.76h30.66v-8.76h-4.38v-4.38h-4.38v-8.76h-4.38v-8.76h-4.38v8.76zM1739.9 943.1h4.38v4.38h4.38v8.76h4.38v8.76h4.38v4.38h4.38v8.76h4.38v4.38h-48.18v-4.38h4.38v-8.76h4.38v-4.38h4.38v-8.76h4.38v-8.76h4.38v-4.38zM1739.9 956.2h-4.38v8.76h-4.38v4.38h-4.38v8.76h30.66v-8.76h-4.38v-4.38h-4.38v-8.76h-4.38v-8.76h-4.38v8.76zM1850.6 969.7h4.38v4.38h4.38v8.76h4.38v8.76h4.38v4.38h4.38v8.76h4.38v4.38h-48.18v-4.38h4.38v-8.76h4.38v-4.38h4.38v-8.76h4.38v-8.76h4.38v-4.38zM1850.6 982.8h-4.38v8.76h-4.38v4.38h-4.38v8.76h30.66v-8.76h-4.38v-4.38h-4.38v-8.76h-4.38v-8.76h-4.38v8.76z" fill="#00f" fill-rule="nonzero"/><path d="M987.8 620.0h13.14v4.38h8.76v8.76h4.38v13.14h-4.38v8.76h-8.76v4.38h-13.14v-4.38h-8.76v-8.76h-4.38v-13.14h4.38v-8.76h8.76v-4.38zM987.8 628.8h-4.38v4.38h-4.38v13.14h4.38v4.38h4.38v4.38h13.14v-4.38h4.38v-4.38h4.38v-13.14h-4.38v-4.38h-4.38v-4.38h-13.14v4.38zM1142.5 704.3h13.14v4.38h8.76v8.76h4.38v13.14h-4.38v8.76h-8.76v4.38h-13.14v-4.38h-8.76v-8.76h-4.38v-13.14h4.38v-8.76h8.76v-4.38zM1142.5 713.0h-4.38v4.38h-4.38v13.14h4.38v4.38h4.38v4.38h13.14v-4.38h4.38v-4.38h4.38v-13.14h-4.38v-4.38h-4.38v-4.38h-13.14v4.38zM1253.4 774.8h13.14v4.38h8.76v8.76h4.38v13.14h-4.38v8.76h-8.76v4.38h-13.14v-4.38h-8.76v-8.76h-4.38v-13.14h4.38v-8.76h8.76v-4.38zM1253.4 783.5h-4.38v4.38h-4.38v13.14h4.38v4.38h4.38v4.38h13.14v-4.38h4.38v-4.38h4.38v-13.14h-4.38v-4.38h-4.38v-4.38h-13.14v4.38zM1381.5 832.8h13.14v4.38h8.76v8.76h4.38v13.14h-4.38v8.76h-8.76v4.38h-13.14v-4.38h-8.76v-8.76h-4.38v-13.14h4.38v-8.76h8.76v-4.38zM1381.5 841.5h-4.38v4.38h-4.38v13.14h4.38v4.38h4.38v4.38h13.14v-4.38h4.38v-4.38h4.38v-13.14h-4.38v-4.38h-4.38v-4.38h-13.14v4.38zM1491.9 863.3h13.14v4.38h8.76v8.76h4.38v13.14h-4.38v8.76h-8.76v4.38h-13.14v-4.38h-8.76v-8.76h-4.38v-13.14h4.38v-8.76h8.76v-4.38zM1491.9 872.0h-4.38v4.38h-4.38v13.14h4.38v4.38h4.38v4.38h13.14v-4.38h4.38v-4.38h4.38v-13.14h-4.38v-4.38h-4.38v-4.38h-13.14v4.38zM1580.4 921.2h13.14v4.38h8.76v8.76h4.38v13.14h-4.38v8.76h-8.76v4.38h-13.14v-4.38h-8.76v-8.76h-4.38v-13.14h4.38v-8.76h8.76v-4.38zM1580.4 929.9h-4.38v4.38h-4.38v13.14h4.38v4.38h4.38v4.38h13.14v-4.38h4.38v-4.38h4.38v-13.14h-4.38v-4.38h-4.38v-4.38h-13.14v4.38zM1691.4 947.3h13.14v4.38h8.76v8.76h4.38v13.14h-4.38v8.76h-8.76v4.38h-13.14v-4.38h-8.76v-8.76h-4.38v-13.14h4.38v-8.76h8.76v-4.38zM1691.4 956.0h-4.38v4.38h-4.38v13.14h4.38v4.38h4.38v4.38h13.14v-4.38h4.38v-4.38h4.38v-13.14h-4.38v-4.38h-4.38v-4.38h-13.14v4.38zM1845.9 992.1h13.14v4.38h8.76v8.76h4.38v13.14h-4.38v8.76h-8.76v4.38h-13.14v-4.38h-8.76v-8.76h-4.38v-13.14h4.38v-8.76h8.76v-4.38zM1845.9 1000.8h-4.38v4.38h-4.38v13.14h4.38v4.38h4.38v4.38h13.14v-4.38h4.38v-4.38h4.38v-13.14h-4.38v-4.38h-4.38v-4.38h-13.14v4.38z" fill="#f00" fill-rule="nonzero"/><rect x="884" y="458.5" width="995.2" height="561.5" fill="none" stroke="#000" stroke-width="4.2"/><g font-family="'Liberation Sans', Arial, sans-serif" fill="#000" stroke="#fff" stroke-width="1.5"><text transform="translate(198.25 1628.50) scale(0.8742 1)" font-size="63">0</text><text transform="translate(410.79 1628.50) scale(0.9061 1)" font-size="63">0.5</text><text transform="translate(680.53 1628.50) scale(0.4929 1)" font-size="63">1</text><text transform="translate(895.39 1628.50) scale(0.8781 1)" font-size="63">1.5</text><text transform="translate(1156.98 1628.50) scale(0.9414 1)" font-size="63">2</text><text transform="translate(1369.45 1628.50) scale(0.9171 1)" font-size="63">2.5</text><text transform="translate(1640.03 1628.50) scale(0.8871 1)" font-size="63">3</text><text transform="translate(1852.89 1628.50) scale(0.9049 1)" font-size="63">3.5</text><text transform="translate(2124.51 1628.50) scale(0.7909 1)" font-size="63">4</text><text transform="translate(162.96 1579.80) scale(0.8710 1)" font-size="63">0</text><text transform="translate(161.91 1390.72) scale(0.9310 1)" font-size="63">2</text><text transform="translate(163.88 1201.65) scale(0.8182 1)" font-size="63">4</text><text transform="translate(162.00 1012.58) scale(0.9000 1)" font-size="63">6</text><text transform="translate(162.96 823.50) scale(0.8710 1)" font-size="63">8</text><text transform="translate(135.07 634.42) scale(0.8323 1)" font-size="63">10</text><text transform="translate(135.02 445.35) scale(0.8455 1)" font-size="63">12</text><text transform="translate(135.12 256.28) scale(0.8195 1)" font-size="63">14</text><text transform="translate(135.07 67.20) scale(0.8323 1)" font-size="63">16</text><text transform="translate(1040.80 1703.60) scale(0.8259 1)" font-size="63">J</text><text transform="translate(1065.53 1730.00) scale(0.5913 1)" font-size="50">1</text><text transform="translate(1093.51 1703.60) scale(0.8974 1)" font-size="63">:Energy</text><text transform="translate(1881.04 151.20) scale(0.8928 1)" font-size="63">NSGA-II</text><text transform="translate(1883.69 235.20) scale(0.9025 1)" font-size="63">SCM</text><text transform="translate(1881.06 319.40) scale(0.8879 1)" font-size="63">Hybride</text><text transform="translate(1006.27 1088.30) scale(0.8695 1)" font-size="63">1.3</text><text transform="translate(1245.31 1088.30) scale(0.8590 1)" font-size="63">1.4</text><text transform="translate(1479.67 1088.30) scale(0.8695 1)" font-size="63">1.5</text><text transform="translate(1718.57 1088.30) scale(0.8695 1)" font-size="63">1.6</text><text transform="translate(782.40 540.50) scale(0.9014 1)" font-size="63">3.5</text><text transform="translate(831.18 695.40) scale(0.8581 1)" font-size="63">3</text><text transform="translate(781.46 850.30) scale(0.9123 1)" font-size="63">2.5</text><text transform="translate(830.15 1005.20) scale(0.9172 1)" font-size="63">2</text></g><g font-family="'Liberation Sans', Arial, sans-serif" fill="#000" stroke="#fff" stroke-width="1.5" transform="rotate(-90)"><text transform="translate(-1061.70 63.40) scale(0.7963 1)" font-size="63">J</text><text transform="translate(-1037.52 94.10) scale(0.9083 1)" font-size="50">2</text><text transform="translate(-1007.91 63.40) scale(0.6429 1)" font-size="63">:</text><text transform="translate(-974.50 63.40) scale(0.8994 1)" font-size="63">Thermal Comfort</text></g></svg></body></html>
